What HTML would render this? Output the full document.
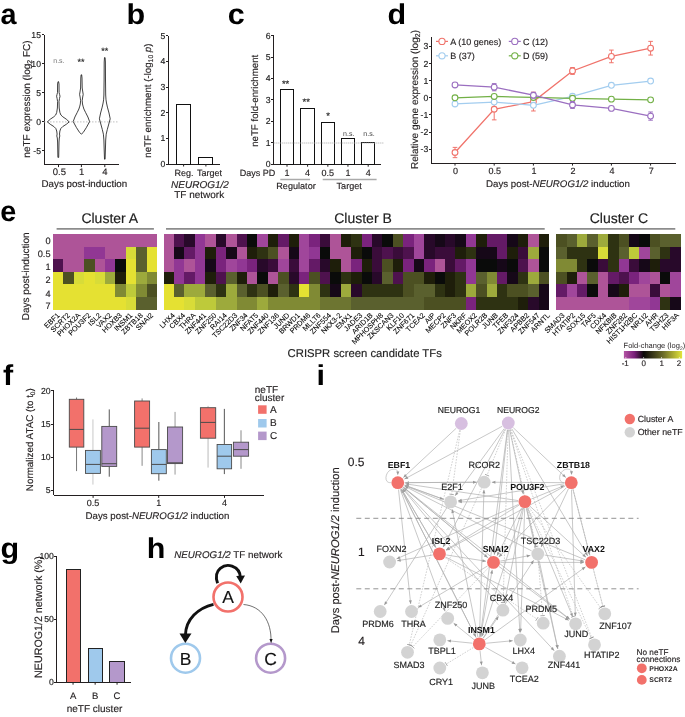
<!DOCTYPE html>
<html><head><meta charset="utf-8"><style>
html,body{margin:0;padding:0;background:#fff;width:685px;height:717px;overflow:hidden;}
svg{display:block;font-family:"Liberation Sans",sans-serif;text-rendering:geometricPrecision;will-change:transform;}
</style></head><body>
<svg width="685" height="717" viewBox="0 0 685 717">
<rect width="685" height="717" fill="#fff"/>
<text transform="translate(0.6,24.0) scale(1.0,1)" x="0" y="0" font-size="28.8" font-weight="bold" fill="#000">a</text>
<text transform="translate(126.6,24.0) scale(1.06,1)" x="0" y="0" font-size="28.8" font-weight="bold" fill="#000">b</text>
<text transform="translate(227.8,23.6) scale(1.06,1)" x="0" y="0" font-size="28.8" font-weight="bold" fill="#000">c</text>
<text transform="translate(387.6,24.0) scale(1.06,1)" x="0" y="0" font-size="28.8" font-weight="bold" fill="#000">d</text>
<text transform="translate(0.2,220.6) scale(1.0,1)" x="0" y="0" font-size="28.8" font-weight="bold" fill="#000">e</text>
<text transform="translate(3.0,384.7) scale(1.06,1)" x="0" y="0" font-size="28.8" font-weight="bold" fill="#000">f</text>
<text transform="translate(0.4,557.8) scale(1.06,1)" x="0" y="0" font-size="28.8" font-weight="bold" fill="#000">g</text>
<text transform="translate(146.8,557.8) scale(1.06,1)" x="0" y="0" font-size="28.8" font-weight="bold" fill="#000">h</text>
<text transform="translate(316.4,384.8) scale(1.06,1)" x="0" y="0" font-size="28.8" font-weight="bold" fill="#000">i</text>
<line x1="44.00" y1="34.80" x2="44.00" y2="164.60" stroke="#231f20" stroke-width="1" shape-rendering="crispEdges"/>
<line x1="44.00" y1="164.60" x2="118.50" y2="164.60" stroke="#231f20" stroke-width="1" shape-rendering="crispEdges"/>
<line x1="41.50" y1="34.80" x2="44.00" y2="34.80" stroke="#231f20" stroke-width="1" shape-rendering="crispEdges"/>
<text x="41.00" y="37.70" font-size="8.7" text-anchor="end" fill="#222" stroke="#222" stroke-width="0.15">15</text>
<line x1="41.50" y1="63.83" x2="44.00" y2="63.83" stroke="#231f20" stroke-width="1" shape-rendering="crispEdges"/>
<text x="41.00" y="66.73" font-size="8.7" text-anchor="end" fill="#222" stroke="#222" stroke-width="0.15">10</text>
<line x1="41.50" y1="92.87" x2="44.00" y2="92.87" stroke="#231f20" stroke-width="1" shape-rendering="crispEdges"/>
<text x="41.00" y="95.77" font-size="8.7" text-anchor="end" fill="#222" stroke="#222" stroke-width="0.15">5</text>
<line x1="41.50" y1="121.90" x2="44.00" y2="121.90" stroke="#231f20" stroke-width="1" shape-rendering="crispEdges"/>
<text x="41.00" y="124.80" font-size="8.7" text-anchor="end" fill="#222" stroke="#222" stroke-width="0.15">0</text>
<line x1="41.50" y1="150.93" x2="44.00" y2="150.93" stroke="#231f20" stroke-width="1" shape-rendering="crispEdges"/>
<text x="41.00" y="153.83" font-size="8.7" text-anchor="end" fill="#222" stroke="#222" stroke-width="0.15">-5</text>
<line x1="44.00" y1="121.90" x2="118.00" y2="121.90" stroke="#b0b0b0" stroke-width="0.8" stroke-dasharray="1.5,1.5"/>
<line x1="58.50" y1="164.60" x2="58.50" y2="167.10" stroke="#231f20" stroke-width="1"/>
<text x="59.40" y="174.60" font-size="9.5" text-anchor="middle" fill="#231f20" stroke="#231f20" stroke-width="0.15">0.5</text>
<line x1="81.40" y1="164.60" x2="81.40" y2="167.10" stroke="#231f20" stroke-width="1"/>
<text x="81.60" y="174.60" font-size="9.5" text-anchor="middle" fill="#231f20" stroke="#231f20" stroke-width="0.15">1</text>
<line x1="104.80" y1="164.60" x2="104.80" y2="167.10" stroke="#231f20" stroke-width="1"/>
<text x="104.90" y="174.60" font-size="9.5" text-anchor="middle" fill="#231f20" stroke="#231f20" stroke-width="0.15">4</text>
<text x="84.40" y="187.00" font-size="9.75" text-anchor="middle" fill="#231f20" stroke="#231f20" stroke-width="0.15">Days post-induction</text>
<text transform="translate(26.20,99.00) rotate(-90)" x="0" y="3.50" font-size="10" text-anchor="middle" fill="#231f20" stroke="#231f20" stroke-width="0.15">neTF expression (log<tspan font-size="7" dy="2">2</tspan><tspan dy="-2"> FC)</tspan></text>
<polygon points="58.60,81.70 59.00,84.00 59.10,92.50 59.60,94.50 60.00,96.20 59.50,98.50 59.00,101.60 59.20,108.00 59.90,112.50 60.90,115.00 62.80,116.80 66.30,119.20 69.20,121.90 66.30,124.30 62.80,126.50 60.80,128.50 59.90,131.00 59.50,134.00 59.80,136.00 59.30,138.00 59.00,142.00 58.70,157.40 57.90,157.40 57.60,142.00 57.30,138.00 56.80,136.00 57.10,134.00 56.70,131.00 55.80,128.50 53.80,126.50 50.30,124.30 47.40,121.90 50.30,119.20 53.80,116.80 55.70,115.00 56.70,112.50 57.40,108.00 57.60,101.60 57.10,98.50 56.60,96.20 57.00,94.50 57.50,92.50 57.60,84.00 58.00,81.70" fill="none" stroke="#111" stroke-width="0.8" stroke-linejoin="round"/>
<polygon points="81.70,74.80 82.00,78.00 82.20,88.00 82.80,92.00 83.20,94.40 82.70,97.00 82.20,100.70 82.50,104.00 83.00,106.10 83.90,109.00 85.60,112.50 87.90,117.00 89.60,121.60 86.40,127.50 83.20,132.50 81.70,133.90 81.10,133.90 79.60,132.50 76.40,127.50 73.20,121.60 74.90,117.00 77.20,112.50 78.90,109.00 79.80,106.10 80.30,104.00 80.60,100.70 80.10,97.00 79.60,94.40 80.00,92.00 80.60,88.00 80.80,78.00 81.10,74.80" fill="none" stroke="#111" stroke-width="0.8" stroke-linejoin="round"/>
<polygon points="105.10,57.60 105.40,62.00 105.50,80.00 105.70,95.00 106.00,99.80 106.50,103.00 107.40,107.10 109.00,113.00 110.20,118.80 108.80,124.00 107.30,129.50 106.20,134.20 105.70,140.00 105.40,150.00 105.10,159.20 104.50,159.20 104.20,150.00 103.90,140.00 103.40,134.20 102.30,129.50 100.80,124.00 99.40,118.80 100.60,113.00 102.20,107.10 103.10,103.00 103.60,99.80 103.90,95.00 104.10,80.00 104.20,62.00 104.50,57.60" fill="none" stroke="#111" stroke-width="0.8" stroke-linejoin="round"/>
<text x="58.90" y="62.50" font-size="7" text-anchor="middle" fill="#777">n.s.</text>
<text x="81.10" y="64.70" font-size="9" text-anchor="middle" fill="#222" stroke="#222" stroke-width="0.15">**</text>
<text x="104.70" y="54.20" font-size="9" text-anchor="middle" fill="#222" stroke="#222" stroke-width="0.15">**</text>
<line x1="168.30" y1="35.70" x2="168.30" y2="164.00" stroke="#231f20" stroke-width="1" shape-rendering="crispEdges"/>
<line x1="168.30" y1="164.00" x2="220.40" y2="164.00" stroke="#231f20" stroke-width="1" shape-rendering="crispEdges"/>
<line x1="165.80" y1="164.00" x2="168.30" y2="164.00" stroke="#231f20" stroke-width="1" shape-rendering="crispEdges"/>
<text x="165.30" y="166.90" font-size="8.7" text-anchor="end" fill="#222" stroke="#222" stroke-width="0.15">0</text>
<line x1="165.80" y1="138.34" x2="168.30" y2="138.34" stroke="#231f20" stroke-width="1" shape-rendering="crispEdges"/>
<text x="165.30" y="141.24" font-size="8.7" text-anchor="end" fill="#222" stroke="#222" stroke-width="0.15">1</text>
<line x1="165.80" y1="112.68" x2="168.30" y2="112.68" stroke="#231f20" stroke-width="1" shape-rendering="crispEdges"/>
<text x="165.30" y="115.58" font-size="8.7" text-anchor="end" fill="#222" stroke="#222" stroke-width="0.15">2</text>
<line x1="165.80" y1="87.02" x2="168.30" y2="87.02" stroke="#231f20" stroke-width="1" shape-rendering="crispEdges"/>
<text x="165.30" y="89.92" font-size="8.7" text-anchor="end" fill="#222" stroke="#222" stroke-width="0.15">3</text>
<line x1="165.80" y1="61.36" x2="168.30" y2="61.36" stroke="#231f20" stroke-width="1" shape-rendering="crispEdges"/>
<text x="165.30" y="64.26" font-size="8.7" text-anchor="end" fill="#222" stroke="#222" stroke-width="0.15">4</text>
<line x1="165.80" y1="35.70" x2="168.30" y2="35.70" stroke="#231f20" stroke-width="1" shape-rendering="crispEdges"/>
<text x="165.30" y="38.60" font-size="8.7" text-anchor="end" fill="#222" stroke="#222" stroke-width="0.15">5</text>
<rect x="176.30" y="104.21" width="14.60" height="59.79" fill="#fff" stroke="#111" stroke-width="1" shape-rendering="crispEdges"/>
<rect x="198.60" y="157.07" width="14.20" height="6.93" fill="#fff" stroke="#111" stroke-width="1" shape-rendering="crispEdges"/>
<line x1="183.60" y1="164.00" x2="183.60" y2="166.50" stroke="#231f20" stroke-width="1"/>
<line x1="205.90" y1="164.00" x2="205.90" y2="166.50" stroke="#231f20" stroke-width="1"/>
<text x="183.90" y="175.80" font-size="9" text-anchor="middle" fill="#231f20" stroke="#231f20" stroke-width="0.15">Reg.</text>
<text x="209.40" y="175.80" font-size="9" text-anchor="middle" fill="#231f20" stroke="#231f20" stroke-width="0.15">Target</text>
<text x="200.00" y="188.30" font-size="10" text-anchor="middle" fill="#231f20" stroke="#231f20" stroke-width="0.15" font-style="italic">NEUROG1/2</text>
<text x="199.20" y="198.00" font-size="10" text-anchor="middle" fill="#231f20" stroke="#231f20" stroke-width="0.15">TF network</text>
<text transform="translate(147.20,100.60) rotate(-90)" x="0" y="3.39" font-size="9.7" text-anchor="middle" fill="#231f20" stroke="#231f20" stroke-width="0.15">neTF enrichment (-log<tspan font-size="6.8" dy="2">10</tspan><tspan dy="-2"> </tspan><tspan font-style="italic">p</tspan>)</text>
<line x1="273.70" y1="35.70" x2="273.70" y2="164.20" stroke="#231f20" stroke-width="1" shape-rendering="crispEdges"/>
<line x1="273.70" y1="164.20" x2="381.30" y2="164.20" stroke="#231f20" stroke-width="1" shape-rendering="crispEdges"/>
<line x1="271.20" y1="164.20" x2="273.70" y2="164.20" stroke="#231f20" stroke-width="1" shape-rendering="crispEdges"/>
<text x="270.70" y="167.10" font-size="8.7" text-anchor="end" fill="#222" stroke="#222" stroke-width="0.15">0</text>
<line x1="271.20" y1="142.78" x2="273.70" y2="142.78" stroke="#231f20" stroke-width="1" shape-rendering="crispEdges"/>
<text x="270.70" y="145.68" font-size="8.7" text-anchor="end" fill="#222" stroke="#222" stroke-width="0.15">1</text>
<line x1="271.20" y1="121.37" x2="273.70" y2="121.37" stroke="#231f20" stroke-width="1" shape-rendering="crispEdges"/>
<text x="270.70" y="124.27" font-size="8.7" text-anchor="end" fill="#222" stroke="#222" stroke-width="0.15">2</text>
<line x1="271.20" y1="99.95" x2="273.70" y2="99.95" stroke="#231f20" stroke-width="1" shape-rendering="crispEdges"/>
<text x="270.70" y="102.85" font-size="8.7" text-anchor="end" fill="#222" stroke="#222" stroke-width="0.15">3</text>
<line x1="271.20" y1="78.53" x2="273.70" y2="78.53" stroke="#231f20" stroke-width="1" shape-rendering="crispEdges"/>
<text x="270.70" y="81.43" font-size="8.7" text-anchor="end" fill="#222" stroke="#222" stroke-width="0.15">4</text>
<line x1="271.20" y1="57.12" x2="273.70" y2="57.12" stroke="#231f20" stroke-width="1" shape-rendering="crispEdges"/>
<text x="270.70" y="60.02" font-size="8.7" text-anchor="end" fill="#222" stroke="#222" stroke-width="0.15">5</text>
<line x1="271.20" y1="35.70" x2="273.70" y2="35.70" stroke="#231f20" stroke-width="1" shape-rendering="crispEdges"/>
<text x="270.70" y="38.60" font-size="8.7" text-anchor="end" fill="#222" stroke="#222" stroke-width="0.15">6</text>
<rect x="280.30" y="89.24" width="13.40" height="74.96" fill="#fff" stroke="#111" stroke-width="1" shape-rendering="crispEdges"/>
<line x1="287.00" y1="164.20" x2="287.00" y2="166.70" stroke="#231f20" stroke-width="1"/>
<text x="285.60" y="86.64" font-size="9.5" text-anchor="middle" fill="#222" stroke="#222" stroke-width="0.15">**</text>
<rect x="300.90" y="108.09" width="13.40" height="56.11" fill="#fff" stroke="#111" stroke-width="1" shape-rendering="crispEdges"/>
<line x1="307.60" y1="164.20" x2="307.60" y2="166.70" stroke="#231f20" stroke-width="1"/>
<text x="306.20" y="105.49" font-size="9.5" text-anchor="middle" fill="#222" stroke="#222" stroke-width="0.15">**</text>
<rect x="321.30" y="122.01" width="13.10" height="42.19" fill="#fff" stroke="#111" stroke-width="1" shape-rendering="crispEdges"/>
<line x1="327.85" y1="164.20" x2="327.85" y2="166.70" stroke="#231f20" stroke-width="1"/>
<text x="328.05" y="119.41" font-size="9.5" text-anchor="middle" fill="#222" stroke="#222" stroke-width="0.15">*</text>
<rect x="341.40" y="138.07" width="13.10" height="26.13" fill="#fff" stroke="#111" stroke-width="1" shape-rendering="crispEdges"/>
<line x1="347.95" y1="164.20" x2="347.95" y2="166.70" stroke="#231f20" stroke-width="1"/>
<text x="348.75" y="135.90" font-size="7" text-anchor="middle" fill="#444">n.s.</text>
<rect x="361.80" y="142.35" width="12.80" height="21.85" fill="#fff" stroke="#111" stroke-width="1" shape-rendering="crispEdges"/>
<line x1="368.20" y1="164.20" x2="368.20" y2="166.70" stroke="#231f20" stroke-width="1"/>
<text x="369.00" y="135.90" font-size="7" text-anchor="middle" fill="#444">n.s.</text>
<line x1="273.70" y1="143.00" x2="384.00" y2="143.00" stroke="#a8a8a8" stroke-width="1" stroke-dasharray="1,1"/>
<text x="275.20" y="176.30" font-size="9" text-anchor="end" fill="#231f20" stroke="#231f20" stroke-width="0.15">Days PD</text>
<text x="287.00" y="176.30" font-size="9" text-anchor="middle" fill="#231f20" stroke="#231f20" stroke-width="0.15">1</text>
<text x="307.60" y="176.30" font-size="9" text-anchor="middle" fill="#231f20" stroke="#231f20" stroke-width="0.15">4</text>
<text x="327.85" y="176.30" font-size="9" text-anchor="middle" fill="#231f20" stroke="#231f20" stroke-width="0.15">0.5</text>
<text x="347.95" y="176.30" font-size="9" text-anchor="middle" fill="#231f20" stroke="#231f20" stroke-width="0.15">1</text>
<text x="368.20" y="176.30" font-size="9" text-anchor="middle" fill="#231f20" stroke="#231f20" stroke-width="0.15">4</text>
<line x1="280.30" y1="179.50" x2="310.10" y2="179.50" stroke="#aaa" stroke-width="1.5"/>
<line x1="322.70" y1="179.50" x2="376.60" y2="179.50" stroke="#aaa" stroke-width="1.5"/>
<text x="296.00" y="189.00" font-size="9.1" text-anchor="middle" fill="#231f20" stroke="#231f20" stroke-width="0.15">Regulator</text>
<text x="349.20" y="189.00" font-size="9.1" text-anchor="middle" fill="#231f20" stroke="#231f20" stroke-width="0.15">Target</text>
<text transform="translate(255.00,100.80) rotate(-90)" x="0" y="3.39" font-size="9.7" text-anchor="middle" fill="#231f20" stroke="#231f20" stroke-width="0.15">neTF fold-enrichment</text>
<line x1="431.30" y1="36.80" x2="431.30" y2="163.10" stroke="#231f20" stroke-width="1" shape-rendering="crispEdges"/>
<line x1="431.30" y1="163.10" x2="675.50" y2="163.10" stroke="#231f20" stroke-width="1" shape-rendering="crispEdges"/>
<line x1="428.80" y1="46.50" x2="431.30" y2="46.50" stroke="#231f20" stroke-width="1" shape-rendering="crispEdges"/>
<text x="428.30" y="49.40" font-size="8.7" text-anchor="end" fill="#222" stroke="#222" stroke-width="0.15">3</text>
<line x1="428.80" y1="63.60" x2="431.30" y2="63.60" stroke="#231f20" stroke-width="1" shape-rendering="crispEdges"/>
<text x="428.30" y="66.50" font-size="8.7" text-anchor="end" fill="#222" stroke="#222" stroke-width="0.15">2</text>
<line x1="428.80" y1="80.70" x2="431.30" y2="80.70" stroke="#231f20" stroke-width="1" shape-rendering="crispEdges"/>
<text x="428.30" y="83.60" font-size="8.7" text-anchor="end" fill="#222" stroke="#222" stroke-width="0.15">1</text>
<line x1="428.80" y1="97.80" x2="431.30" y2="97.80" stroke="#231f20" stroke-width="1" shape-rendering="crispEdges"/>
<text x="428.30" y="100.70" font-size="8.7" text-anchor="end" fill="#222" stroke="#222" stroke-width="0.15">0</text>
<line x1="428.80" y1="114.90" x2="431.30" y2="114.90" stroke="#231f20" stroke-width="1" shape-rendering="crispEdges"/>
<text x="428.30" y="117.80" font-size="8.7" text-anchor="end" fill="#222" stroke="#222" stroke-width="0.15">-1</text>
<line x1="428.80" y1="132.00" x2="431.30" y2="132.00" stroke="#231f20" stroke-width="1" shape-rendering="crispEdges"/>
<text x="428.30" y="134.90" font-size="8.7" text-anchor="end" fill="#222" stroke="#222" stroke-width="0.15">-2</text>
<line x1="428.80" y1="149.10" x2="431.30" y2="149.10" stroke="#231f20" stroke-width="1" shape-rendering="crispEdges"/>
<text x="428.30" y="152.00" font-size="8.7" text-anchor="end" fill="#222" stroke="#222" stroke-width="0.15">-3</text>
<line x1="455.00" y1="163.10" x2="455.00" y2="165.60" stroke="#231f20" stroke-width="1"/>
<text x="455.60" y="174.10" font-size="9" text-anchor="middle" fill="#231f20" stroke="#231f20" stroke-width="0.15">0</text>
<line x1="494.20" y1="163.10" x2="494.20" y2="165.60" stroke="#231f20" stroke-width="1"/>
<text x="494.80" y="174.10" font-size="9" text-anchor="middle" fill="#231f20" stroke="#231f20" stroke-width="0.15">0.5</text>
<line x1="533.40" y1="163.10" x2="533.40" y2="165.60" stroke="#231f20" stroke-width="1"/>
<text x="534.00" y="174.10" font-size="9" text-anchor="middle" fill="#231f20" stroke="#231f20" stroke-width="0.15">1</text>
<line x1="572.50" y1="163.10" x2="572.50" y2="165.60" stroke="#231f20" stroke-width="1"/>
<text x="573.10" y="174.10" font-size="9" text-anchor="middle" fill="#231f20" stroke="#231f20" stroke-width="0.15">2</text>
<line x1="611.40" y1="163.10" x2="611.40" y2="165.60" stroke="#231f20" stroke-width="1"/>
<text x="612.00" y="174.10" font-size="9" text-anchor="middle" fill="#231f20" stroke="#231f20" stroke-width="0.15">4</text>
<line x1="650.60" y1="163.10" x2="650.60" y2="165.60" stroke="#231f20" stroke-width="1"/>
<text x="651.20" y="174.10" font-size="9" text-anchor="middle" fill="#231f20" stroke="#231f20" stroke-width="0.15">7</text>
<text x="558.00" y="186.60" font-size="9.7" text-anchor="middle" fill="#231f20" stroke="#231f20" stroke-width="0.15">Days post-<tspan font-style="italic">NEUROG1/2</tspan> induction</text>
<text transform="translate(414.00,99.50) rotate(-90)" x="0" y="3.50" font-size="10" text-anchor="middle" fill="#231f20" stroke="#231f20" stroke-width="0.15">Relative gene expression (log<tspan font-size="7" dy="2">2</tspan><tspan dy="-2">)</tspan></text>
<polyline points="455.00,152.52 494.20,109.26 533.40,101.56 572.50,70.95 611.40,56.42 650.60,48.21" fill="none" stroke="#f0736b" stroke-width="1.3"/>
<line x1="455.00" y1="147.39" x2="455.00" y2="157.65" stroke="#f0736b" stroke-width="1"/>
<line x1="452.70" y1="147.39" x2="457.30" y2="147.39" stroke="#f0736b" stroke-width="1"/>
<line x1="452.70" y1="157.65" x2="457.30" y2="157.65" stroke="#f0736b" stroke-width="1"/>
<circle cx="455.00" cy="152.52" r="2.9" fill="#fff" stroke="#f0736b" stroke-width="1.1"/>
<line x1="494.20" y1="98.66" x2="494.20" y2="119.86" stroke="#f0736b" stroke-width="1"/>
<line x1="491.90" y1="98.66" x2="496.50" y2="98.66" stroke="#f0736b" stroke-width="1"/>
<line x1="491.90" y1="119.86" x2="496.50" y2="119.86" stroke="#f0736b" stroke-width="1"/>
<circle cx="494.20" cy="109.26" r="2.9" fill="#fff" stroke="#f0736b" stroke-width="1.1"/>
<line x1="533.40" y1="92.16" x2="533.40" y2="110.97" stroke="#f0736b" stroke-width="1"/>
<line x1="531.10" y1="92.16" x2="535.70" y2="92.16" stroke="#f0736b" stroke-width="1"/>
<line x1="531.10" y1="110.97" x2="535.70" y2="110.97" stroke="#f0736b" stroke-width="1"/>
<circle cx="533.40" cy="101.56" r="2.9" fill="#fff" stroke="#f0736b" stroke-width="1.1"/>
<line x1="572.50" y1="67.53" x2="572.50" y2="74.37" stroke="#f0736b" stroke-width="1"/>
<line x1="570.20" y1="67.53" x2="574.80" y2="67.53" stroke="#f0736b" stroke-width="1"/>
<line x1="570.20" y1="74.37" x2="574.80" y2="74.37" stroke="#f0736b" stroke-width="1"/>
<circle cx="572.50" cy="70.95" r="2.9" fill="#fff" stroke="#f0736b" stroke-width="1.1"/>
<line x1="611.40" y1="50.09" x2="611.40" y2="62.74" stroke="#f0736b" stroke-width="1"/>
<line x1="609.10" y1="50.09" x2="613.70" y2="50.09" stroke="#f0736b" stroke-width="1"/>
<line x1="609.10" y1="62.74" x2="613.70" y2="62.74" stroke="#f0736b" stroke-width="1"/>
<circle cx="611.40" cy="56.42" r="2.9" fill="#fff" stroke="#f0736b" stroke-width="1.1"/>
<line x1="650.60" y1="41.37" x2="650.60" y2="55.05" stroke="#f0736b" stroke-width="1"/>
<line x1="648.30" y1="41.37" x2="652.90" y2="41.37" stroke="#f0736b" stroke-width="1"/>
<line x1="648.30" y1="55.05" x2="652.90" y2="55.05" stroke="#f0736b" stroke-width="1"/>
<circle cx="650.60" cy="48.21" r="2.9" fill="#fff" stroke="#f0736b" stroke-width="1.1"/>
<polyline points="455.00,103.96 494.20,102.08 533.40,105.32 572.50,96.26 611.40,85.32 650.60,81.04" fill="none" stroke="#a3cdef" stroke-width="1.3"/>
<circle cx="455.00" cy="103.96" r="2.9" fill="#fff" stroke="#a3cdef" stroke-width="1.1"/>
<circle cx="494.20" cy="102.08" r="2.9" fill="#fff" stroke="#a3cdef" stroke-width="1.1"/>
<circle cx="533.40" cy="105.32" r="2.9" fill="#fff" stroke="#a3cdef" stroke-width="1.1"/>
<circle cx="572.50" cy="96.26" r="2.9" fill="#fff" stroke="#a3cdef" stroke-width="1.1"/>
<circle cx="611.40" cy="85.32" r="2.9" fill="#fff" stroke="#a3cdef" stroke-width="1.1"/>
<circle cx="650.60" cy="81.04" r="2.9" fill="#fff" stroke="#a3cdef" stroke-width="1.1"/>
<polyline points="455.00,97.80 494.20,96.43 533.40,97.46 572.50,98.31 611.40,99.17 650.60,99.85" fill="none" stroke="#72b046" stroke-width="1.3"/>
<circle cx="455.00" cy="97.80" r="2.9" fill="#fff" stroke="#72b046" stroke-width="1.1"/>
<circle cx="494.20" cy="96.43" r="2.9" fill="#fff" stroke="#72b046" stroke-width="1.1"/>
<circle cx="533.40" cy="97.46" r="2.9" fill="#fff" stroke="#72b046" stroke-width="1.1"/>
<circle cx="572.50" cy="98.31" r="2.9" fill="#fff" stroke="#72b046" stroke-width="1.1"/>
<circle cx="611.40" cy="99.17" r="2.9" fill="#fff" stroke="#72b046" stroke-width="1.1"/>
<circle cx="650.60" cy="99.85" r="2.9" fill="#fff" stroke="#72b046" stroke-width="1.1"/>
<polyline points="455.00,84.97 494.20,87.20 533.40,95.23 572.50,104.98 611.40,108.40 650.60,116.10" fill="none" stroke="#9b6fc0" stroke-width="1.3"/>
<circle cx="455.00" cy="84.97" r="2.9" fill="#fff" stroke="#9b6fc0" stroke-width="1.1"/>
<line x1="494.20" y1="83.61" x2="494.20" y2="90.79" stroke="#9b6fc0" stroke-width="1"/>
<line x1="491.90" y1="83.61" x2="496.50" y2="83.61" stroke="#9b6fc0" stroke-width="1"/>
<line x1="491.90" y1="90.79" x2="496.50" y2="90.79" stroke="#9b6fc0" stroke-width="1"/>
<circle cx="494.20" cy="87.20" r="2.9" fill="#fff" stroke="#9b6fc0" stroke-width="1.1"/>
<line x1="533.40" y1="92.33" x2="533.40" y2="98.14" stroke="#9b6fc0" stroke-width="1"/>
<line x1="531.10" y1="92.33" x2="535.70" y2="92.33" stroke="#9b6fc0" stroke-width="1"/>
<line x1="531.10" y1="98.14" x2="535.70" y2="98.14" stroke="#9b6fc0" stroke-width="1"/>
<circle cx="533.40" cy="95.23" r="2.9" fill="#fff" stroke="#9b6fc0" stroke-width="1.1"/>
<line x1="572.50" y1="101.56" x2="572.50" y2="108.40" stroke="#9b6fc0" stroke-width="1"/>
<line x1="570.20" y1="101.56" x2="574.80" y2="101.56" stroke="#9b6fc0" stroke-width="1"/>
<line x1="570.20" y1="108.40" x2="574.80" y2="108.40" stroke="#9b6fc0" stroke-width="1"/>
<circle cx="572.50" cy="104.98" r="2.9" fill="#fff" stroke="#9b6fc0" stroke-width="1.1"/>
<line x1="611.40" y1="107.03" x2="611.40" y2="109.77" stroke="#9b6fc0" stroke-width="1"/>
<line x1="609.10" y1="107.03" x2="613.70" y2="107.03" stroke="#9b6fc0" stroke-width="1"/>
<line x1="609.10" y1="109.77" x2="613.70" y2="109.77" stroke="#9b6fc0" stroke-width="1"/>
<circle cx="611.40" cy="108.40" r="2.9" fill="#fff" stroke="#9b6fc0" stroke-width="1.1"/>
<line x1="650.60" y1="111.99" x2="650.60" y2="120.20" stroke="#9b6fc0" stroke-width="1"/>
<line x1="648.30" y1="111.99" x2="652.90" y2="111.99" stroke="#9b6fc0" stroke-width="1"/>
<line x1="648.30" y1="120.20" x2="652.90" y2="120.20" stroke="#9b6fc0" stroke-width="1"/>
<circle cx="650.60" cy="116.10" r="2.9" fill="#fff" stroke="#9b6fc0" stroke-width="1.1"/>
<line x1="436.00" y1="41.40" x2="448.00" y2="41.40" stroke="#f0736b" stroke-width="1.2"/>
<circle cx="442.00" cy="41.40" r="3.1" fill="#fff" stroke="#f0736b" stroke-width="1.1"/>
<text x="450.20" y="44.60" font-size="9" text-anchor="start" fill="#231f20" stroke="#231f20" stroke-width="0.15">A (10 genes)</text>
<line x1="508.80" y1="41.40" x2="520.80" y2="41.40" stroke="#9b6fc0" stroke-width="1.2"/>
<circle cx="514.80" cy="41.40" r="3.1" fill="#fff" stroke="#9b6fc0" stroke-width="1.1"/>
<text x="523.00" y="44.60" font-size="9" text-anchor="start" fill="#231f20" stroke="#231f20" stroke-width="0.15">C (12)</text>
<line x1="436.00" y1="55.80" x2="448.00" y2="55.80" stroke="#a3cdef" stroke-width="1.2"/>
<circle cx="442.00" cy="55.80" r="3.1" fill="#fff" stroke="#a3cdef" stroke-width="1.1"/>
<text x="450.20" y="59.00" font-size="9" text-anchor="start" fill="#231f20" stroke="#231f20" stroke-width="0.15">B (37)</text>
<line x1="508.80" y1="55.80" x2="520.80" y2="55.80" stroke="#72b046" stroke-width="1.2"/>
<circle cx="514.80" cy="55.80" r="3.1" fill="#fff" stroke="#72b046" stroke-width="1.1"/>
<text x="523.00" y="59.00" font-size="9" text-anchor="start" fill="#231f20" stroke="#231f20" stroke-width="0.15">D (59)</text>
<g shape-rendering="crispEdges">
<rect x="53.00" y="234.00" width="10.71" height="12.90" fill="#ae5498"/>
<rect x="53.00" y="246.60" width="10.71" height="12.90" fill="#ae5498"/>
<rect x="53.00" y="259.20" width="10.71" height="12.90" fill="#4e124e"/>
<rect x="53.00" y="271.80" width="10.71" height="12.90" fill="#e5e132"/>
<rect x="53.00" y="284.40" width="10.71" height="12.90" fill="#e5e132"/>
<rect x="53.00" y="297.00" width="10.71" height="12.90" fill="#e5e132"/>
<rect x="63.41" y="234.00" width="10.71" height="12.90" fill="#ae5498"/>
<rect x="63.41" y="246.60" width="10.71" height="12.90" fill="#ae5498"/>
<rect x="63.41" y="259.20" width="10.71" height="12.90" fill="#ae5498"/>
<rect x="63.41" y="271.80" width="10.71" height="12.90" fill="#4c5022"/>
<rect x="63.41" y="284.40" width="10.71" height="12.90" fill="#e5e132"/>
<rect x="63.41" y="297.00" width="10.71" height="12.90" fill="#e5e132"/>
<rect x="73.82" y="234.00" width="10.71" height="12.90" fill="#ae5498"/>
<rect x="73.82" y="246.60" width="10.71" height="12.90" fill="#ae5498"/>
<rect x="73.82" y="259.20" width="10.71" height="12.90" fill="#ae5498"/>
<rect x="73.82" y="271.80" width="10.71" height="12.90" fill="#d8dc38"/>
<rect x="73.82" y="284.40" width="10.71" height="12.90" fill="#e5e132"/>
<rect x="73.82" y="297.00" width="10.71" height="12.90" fill="#e5e132"/>
<rect x="84.23" y="234.00" width="10.71" height="12.90" fill="#ae5498"/>
<rect x="84.23" y="246.60" width="10.71" height="12.90" fill="#913794"/>
<rect x="84.23" y="259.20" width="10.71" height="12.90" fill="#4c5022"/>
<rect x="84.23" y="271.80" width="10.71" height="12.90" fill="#e5e132"/>
<rect x="84.23" y="284.40" width="10.71" height="12.90" fill="#e5e132"/>
<rect x="84.23" y="297.00" width="10.71" height="12.90" fill="#e5e132"/>
<rect x="94.64" y="234.00" width="10.71" height="12.90" fill="#ae5498"/>
<rect x="94.64" y="246.60" width="10.71" height="12.90" fill="#913794"/>
<rect x="94.64" y="259.20" width="10.71" height="12.90" fill="#ae5498"/>
<rect x="94.64" y="271.80" width="10.71" height="12.90" fill="#d8dc38"/>
<rect x="94.64" y="284.40" width="10.71" height="12.90" fill="#e5e132"/>
<rect x="94.64" y="297.00" width="10.71" height="12.90" fill="#e5e132"/>
<rect x="105.05" y="234.00" width="10.71" height="12.90" fill="#ae5498"/>
<rect x="105.05" y="246.60" width="10.71" height="12.90" fill="#ae5498"/>
<rect x="105.05" y="259.20" width="10.71" height="12.90" fill="#913794"/>
<rect x="105.05" y="271.80" width="10.71" height="12.90" fill="#9daa3c"/>
<rect x="105.05" y="284.40" width="10.71" height="12.90" fill="#e5e132"/>
<rect x="105.05" y="297.00" width="10.71" height="12.90" fill="#e5e132"/>
<rect x="115.46" y="234.00" width="10.71" height="12.90" fill="#ae5498"/>
<rect x="115.46" y="246.60" width="10.71" height="12.90" fill="#ae5498"/>
<rect x="115.46" y="259.20" width="10.71" height="12.90" fill="#0a0b0a"/>
<rect x="115.46" y="271.80" width="10.71" height="12.90" fill="#1e1e0a"/>
<rect x="115.46" y="284.40" width="10.71" height="12.90" fill="#808a34"/>
<rect x="115.46" y="297.00" width="10.71" height="12.90" fill="#e5e132"/>
<rect x="125.87" y="234.00" width="10.71" height="12.90" fill="#ae5498"/>
<rect x="125.87" y="246.60" width="10.71" height="12.90" fill="#d8dc38"/>
<rect x="125.87" y="259.20" width="10.71" height="12.90" fill="#e5e132"/>
<rect x="125.87" y="271.80" width="10.71" height="12.90" fill="#e5e132"/>
<rect x="125.87" y="284.40" width="10.71" height="12.90" fill="#beca3a"/>
<rect x="125.87" y="297.00" width="10.71" height="12.90" fill="#d8dc38"/>
<rect x="136.28" y="234.00" width="10.71" height="12.90" fill="#ae5498"/>
<rect x="136.28" y="246.60" width="10.71" height="12.90" fill="#5a602e"/>
<rect x="136.28" y="259.20" width="10.71" height="12.90" fill="#5a602e"/>
<rect x="136.28" y="271.80" width="10.71" height="12.90" fill="#9daa3c"/>
<rect x="136.28" y="284.40" width="10.71" height="12.90" fill="#808a34"/>
<rect x="136.28" y="297.00" width="10.71" height="12.90" fill="#5a602e"/>
<rect x="146.69" y="234.00" width="10.71" height="12.90" fill="#ae5498"/>
<rect x="146.69" y="246.60" width="10.71" height="12.90" fill="#e5e132"/>
<rect x="146.69" y="259.20" width="10.71" height="12.90" fill="#e5e132"/>
<rect x="146.69" y="271.80" width="10.71" height="12.90" fill="#808a34"/>
<rect x="146.69" y="284.40" width="10.71" height="12.90" fill="#4c5022"/>
<rect x="146.69" y="297.00" width="10.71" height="12.90" fill="#5a602e"/>
</g>
<text transform="translate(60.00,315.8) rotate(-45)" x="0" y="0" font-size="7.3" text-anchor="end" fill="#000" stroke="#000" stroke-width="0.08">EBF1</text>
<text transform="translate(70.41,315.8) rotate(-45)" x="0" y="0" font-size="7.3" text-anchor="end" fill="#000" stroke="#000" stroke-width="0.08">SCRT2</text>
<text transform="translate(80.83,315.8) rotate(-45)" x="0" y="0" font-size="7.3" text-anchor="end" fill="#000" stroke="#000" stroke-width="0.08">PHOX2A</text>
<text transform="translate(91.23,315.8) rotate(-45)" x="0" y="0" font-size="7.3" text-anchor="end" fill="#000" stroke="#000" stroke-width="0.08">POU3F2</text>
<text transform="translate(101.64,315.8) rotate(-45)" x="0" y="0" font-size="7.3" text-anchor="end" fill="#000" stroke="#000" stroke-width="0.08">ISL2</text>
<text transform="translate(112.05,315.8) rotate(-45)" x="0" y="0" font-size="7.3" text-anchor="end" fill="#000" stroke="#000" stroke-width="0.08">VAX2</text>
<text transform="translate(122.47,315.8) rotate(-45)" x="0" y="0" font-size="7.3" text-anchor="end" fill="#000" stroke="#000" stroke-width="0.08">HOXB3</text>
<text transform="translate(132.88,315.8) rotate(-45)" x="0" y="0" font-size="7.3" text-anchor="end" fill="#000" stroke="#000" stroke-width="0.08">INSM1</text>
<text transform="translate(143.29,315.8) rotate(-45)" x="0" y="0" font-size="7.3" text-anchor="end" fill="#000" stroke="#000" stroke-width="0.08">ZBTB18</text>
<text transform="translate(153.69,315.8) rotate(-45)" x="0" y="0" font-size="7.3" text-anchor="end" fill="#000" stroke="#000" stroke-width="0.08">SNAI2</text>
<g shape-rendering="crispEdges">
<rect x="163.60" y="234.00" width="10.72" height="12.90" fill="#ae5498"/>
<rect x="163.60" y="246.60" width="10.72" height="12.90" fill="#ae5498"/>
<rect x="163.60" y="259.20" width="10.72" height="12.90" fill="#ae5498"/>
<rect x="163.60" y="271.80" width="10.72" height="12.90" fill="#1e1e0a"/>
<rect x="163.60" y="284.40" width="10.72" height="12.90" fill="#e5e132"/>
<rect x="163.60" y="297.00" width="10.72" height="12.90" fill="#e5e132"/>
<rect x="174.02" y="234.00" width="10.72" height="12.90" fill="#4e124e"/>
<rect x="174.02" y="246.60" width="10.72" height="12.90" fill="#160818"/>
<rect x="174.02" y="259.20" width="10.72" height="12.90" fill="#913794"/>
<rect x="174.02" y="271.80" width="10.72" height="12.90" fill="#913794"/>
<rect x="174.02" y="284.40" width="10.72" height="12.90" fill="#5a602e"/>
<rect x="174.02" y="297.00" width="10.72" height="12.90" fill="#e5e132"/>
<rect x="184.44" y="234.00" width="10.72" height="12.90" fill="#28092a"/>
<rect x="184.44" y="246.60" width="10.72" height="12.90" fill="#641a66"/>
<rect x="184.44" y="259.20" width="10.72" height="12.90" fill="#ae5498"/>
<rect x="184.44" y="271.80" width="10.72" height="12.90" fill="#641a66"/>
<rect x="184.44" y="284.40" width="10.72" height="12.90" fill="#9daa3c"/>
<rect x="184.44" y="297.00" width="10.72" height="12.90" fill="#d8dc38"/>
<rect x="194.86" y="234.00" width="10.72" height="12.90" fill="#913794"/>
<rect x="194.86" y="246.60" width="10.72" height="12.90" fill="#913794"/>
<rect x="194.86" y="259.20" width="10.72" height="12.90" fill="#913794"/>
<rect x="194.86" y="271.80" width="10.72" height="12.90" fill="#913794"/>
<rect x="194.86" y="284.40" width="10.72" height="12.90" fill="#9daa3c"/>
<rect x="194.86" y="297.00" width="10.72" height="12.90" fill="#beca3a"/>
<rect x="205.28" y="234.00" width="10.72" height="12.90" fill="#ae5498"/>
<rect x="205.28" y="246.60" width="10.72" height="12.90" fill="#1e1e0a"/>
<rect x="205.28" y="259.20" width="10.72" height="12.90" fill="#160818"/>
<rect x="205.28" y="271.80" width="10.72" height="12.90" fill="#1e1e0a"/>
<rect x="205.28" y="284.40" width="10.72" height="12.90" fill="#5a602e"/>
<rect x="205.28" y="297.00" width="10.72" height="12.90" fill="#beca3a"/>
<rect x="215.70" y="234.00" width="10.72" height="12.90" fill="#28092a"/>
<rect x="215.70" y="246.60" width="10.72" height="12.90" fill="#7a237d"/>
<rect x="215.70" y="259.20" width="10.72" height="12.90" fill="#7a237d"/>
<rect x="215.70" y="271.80" width="10.72" height="12.90" fill="#4e124e"/>
<rect x="215.70" y="284.40" width="10.72" height="12.90" fill="#2e3212"/>
<rect x="215.70" y="297.00" width="10.72" height="12.90" fill="#9daa3c"/>
<rect x="226.12" y="234.00" width="10.72" height="12.90" fill="#ae5498"/>
<rect x="226.12" y="246.60" width="10.72" height="12.90" fill="#160818"/>
<rect x="226.12" y="259.20" width="10.72" height="12.90" fill="#a0469b"/>
<rect x="226.12" y="271.80" width="10.72" height="12.90" fill="#5a602e"/>
<rect x="226.12" y="284.40" width="10.72" height="12.90" fill="#9daa3c"/>
<rect x="226.12" y="297.00" width="10.72" height="12.90" fill="#9daa3c"/>
<rect x="236.54" y="234.00" width="10.72" height="12.90" fill="#4e124e"/>
<rect x="236.54" y="246.60" width="10.72" height="12.90" fill="#ae5498"/>
<rect x="236.54" y="259.20" width="10.72" height="12.90" fill="#913794"/>
<rect x="236.54" y="271.80" width="10.72" height="12.90" fill="#1e1e0a"/>
<rect x="236.54" y="284.40" width="10.72" height="12.90" fill="#5a602e"/>
<rect x="236.54" y="297.00" width="10.72" height="12.90" fill="#808a34"/>
<rect x="246.96" y="234.00" width="10.72" height="12.90" fill="#0a0b0a"/>
<rect x="246.96" y="246.60" width="10.72" height="12.90" fill="#1e1e0a"/>
<rect x="246.96" y="259.20" width="10.72" height="12.90" fill="#7a237d"/>
<rect x="246.96" y="271.80" width="10.72" height="12.90" fill="#ae5498"/>
<rect x="246.96" y="284.40" width="10.72" height="12.90" fill="#2e3212"/>
<rect x="246.96" y="297.00" width="10.72" height="12.90" fill="#808a34"/>
<rect x="257.38" y="234.00" width="10.72" height="12.90" fill="#a0469b"/>
<rect x="257.38" y="246.60" width="10.72" height="12.90" fill="#2e3212"/>
<rect x="257.38" y="259.20" width="10.72" height="12.90" fill="#28092a"/>
<rect x="257.38" y="271.80" width="10.72" height="12.90" fill="#0a0b0a"/>
<rect x="257.38" y="284.40" width="10.72" height="12.90" fill="#4c5022"/>
<rect x="257.38" y="297.00" width="10.72" height="12.90" fill="#9daa3c"/>
<rect x="267.80" y="234.00" width="10.72" height="12.90" fill="#1e1e0a"/>
<rect x="267.80" y="246.60" width="10.72" height="12.90" fill="#4c5022"/>
<rect x="267.80" y="259.20" width="10.72" height="12.90" fill="#3a0c3a"/>
<rect x="267.80" y="271.80" width="10.72" height="12.90" fill="#ae5498"/>
<rect x="267.80" y="284.40" width="10.72" height="12.90" fill="#1e1e0a"/>
<rect x="267.80" y="297.00" width="10.72" height="12.90" fill="#808a34"/>
<rect x="278.22" y="234.00" width="10.72" height="12.90" fill="#641a66"/>
<rect x="278.22" y="246.60" width="10.72" height="12.90" fill="#ae5498"/>
<rect x="278.22" y="259.20" width="10.72" height="12.90" fill="#a0469b"/>
<rect x="278.22" y="271.80" width="10.72" height="12.90" fill="#4c5022"/>
<rect x="278.22" y="284.40" width="10.72" height="12.90" fill="#5a602e"/>
<rect x="278.22" y="297.00" width="10.72" height="12.90" fill="#808a34"/>
<rect x="288.64" y="234.00" width="10.72" height="12.90" fill="#1e1e0a"/>
<rect x="288.64" y="246.60" width="10.72" height="12.90" fill="#160818"/>
<rect x="288.64" y="259.20" width="10.72" height="12.90" fill="#3a0c3a"/>
<rect x="288.64" y="271.80" width="10.72" height="12.90" fill="#28092a"/>
<rect x="288.64" y="284.40" width="10.72" height="12.90" fill="#2e3212"/>
<rect x="288.64" y="297.00" width="10.72" height="12.90" fill="#808a34"/>
<rect x="299.06" y="234.00" width="10.72" height="12.90" fill="#a0469b"/>
<rect x="299.06" y="246.60" width="10.72" height="12.90" fill="#a0469b"/>
<rect x="299.06" y="259.20" width="10.72" height="12.90" fill="#a0469b"/>
<rect x="299.06" y="271.80" width="10.72" height="12.90" fill="#7a237d"/>
<rect x="299.06" y="284.40" width="10.72" height="12.90" fill="#e5e132"/>
<rect x="299.06" y="297.00" width="10.72" height="12.90" fill="#808a34"/>
<rect x="309.48" y="234.00" width="10.72" height="12.90" fill="#7a237d"/>
<rect x="309.48" y="246.60" width="10.72" height="12.90" fill="#913794"/>
<rect x="309.48" y="259.20" width="10.72" height="12.90" fill="#641a66"/>
<rect x="309.48" y="271.80" width="10.72" height="12.90" fill="#4c5022"/>
<rect x="309.48" y="284.40" width="10.72" height="12.90" fill="#808a34"/>
<rect x="309.48" y="297.00" width="10.72" height="12.90" fill="#808a34"/>
<rect x="319.90" y="234.00" width="10.72" height="12.90" fill="#3a0c3a"/>
<rect x="319.90" y="246.60" width="10.72" height="12.90" fill="#0a0b0a"/>
<rect x="319.90" y="259.20" width="10.72" height="12.90" fill="#28092a"/>
<rect x="319.90" y="271.80" width="10.72" height="12.90" fill="#4e124e"/>
<rect x="319.90" y="284.40" width="10.72" height="12.90" fill="#2e3212"/>
<rect x="319.90" y="297.00" width="10.72" height="12.90" fill="#6d7531"/>
<rect x="330.32" y="234.00" width="10.72" height="12.90" fill="#ae5498"/>
<rect x="330.32" y="246.60" width="10.72" height="12.90" fill="#ae5498"/>
<rect x="330.32" y="259.20" width="10.72" height="12.90" fill="#1e1e0a"/>
<rect x="330.32" y="271.80" width="10.72" height="12.90" fill="#0a0b0a"/>
<rect x="330.32" y="284.40" width="10.72" height="12.90" fill="#160818"/>
<rect x="330.32" y="297.00" width="10.72" height="12.90" fill="#6d7531"/>
<rect x="340.74" y="234.00" width="10.72" height="12.90" fill="#1e1e0a"/>
<rect x="340.74" y="246.60" width="10.72" height="12.90" fill="#ae5498"/>
<rect x="340.74" y="259.20" width="10.72" height="12.90" fill="#ae5498"/>
<rect x="340.74" y="271.80" width="10.72" height="12.90" fill="#2e3212"/>
<rect x="340.74" y="284.40" width="10.72" height="12.90" fill="#9daa3c"/>
<rect x="340.74" y="297.00" width="10.72" height="12.90" fill="#6d7531"/>
<rect x="351.16" y="234.00" width="10.72" height="12.90" fill="#2e3212"/>
<rect x="351.16" y="246.60" width="10.72" height="12.90" fill="#1e1e0a"/>
<rect x="351.16" y="259.20" width="10.72" height="12.90" fill="#7a237d"/>
<rect x="351.16" y="271.80" width="10.72" height="12.90" fill="#1e1e0a"/>
<rect x="351.16" y="284.40" width="10.72" height="12.90" fill="#28092a"/>
<rect x="351.16" y="297.00" width="10.72" height="12.90" fill="#5a602e"/>
<rect x="361.58" y="234.00" width="10.72" height="12.90" fill="#7a237d"/>
<rect x="361.58" y="246.60" width="10.72" height="12.90" fill="#0a0b0a"/>
<rect x="361.58" y="259.20" width="10.72" height="12.90" fill="#1e1e0a"/>
<rect x="361.58" y="271.80" width="10.72" height="12.90" fill="#0a0b0a"/>
<rect x="361.58" y="284.40" width="10.72" height="12.90" fill="#2e3212"/>
<rect x="361.58" y="297.00" width="10.72" height="12.90" fill="#5a602e"/>
<rect x="372.00" y="234.00" width="10.72" height="12.90" fill="#28092a"/>
<rect x="372.00" y="246.60" width="10.72" height="12.90" fill="#3a0c3a"/>
<rect x="372.00" y="259.20" width="10.72" height="12.90" fill="#3a0c3a"/>
<rect x="372.00" y="271.80" width="10.72" height="12.90" fill="#28092a"/>
<rect x="372.00" y="284.40" width="10.72" height="12.90" fill="#2e3212"/>
<rect x="372.00" y="297.00" width="10.72" height="12.90" fill="#5a602e"/>
<rect x="382.42" y="234.00" width="10.72" height="12.90" fill="#0a0b0a"/>
<rect x="382.42" y="246.60" width="10.72" height="12.90" fill="#4e124e"/>
<rect x="382.42" y="259.20" width="10.72" height="12.90" fill="#4c5022"/>
<rect x="382.42" y="271.80" width="10.72" height="12.90" fill="#5a602e"/>
<rect x="382.42" y="284.40" width="10.72" height="12.90" fill="#2e3212"/>
<rect x="382.42" y="297.00" width="10.72" height="12.90" fill="#5a602e"/>
<rect x="392.84" y="234.00" width="10.72" height="12.90" fill="#4c5022"/>
<rect x="392.84" y="246.60" width="10.72" height="12.90" fill="#3a0c3a"/>
<rect x="392.84" y="259.20" width="10.72" height="12.90" fill="#1e1e0a"/>
<rect x="392.84" y="271.80" width="10.72" height="12.90" fill="#4e124e"/>
<rect x="392.84" y="284.40" width="10.72" height="12.90" fill="#2e3212"/>
<rect x="392.84" y="297.00" width="10.72" height="12.90" fill="#5a602e"/>
<rect x="403.26" y="234.00" width="10.72" height="12.90" fill="#7a237d"/>
<rect x="403.26" y="246.60" width="10.72" height="12.90" fill="#4e124e"/>
<rect x="403.26" y="259.20" width="10.72" height="12.90" fill="#7a237d"/>
<rect x="403.26" y="271.80" width="10.72" height="12.90" fill="#4c5022"/>
<rect x="403.26" y="284.40" width="10.72" height="12.90" fill="#4c5022"/>
<rect x="403.26" y="297.00" width="10.72" height="12.90" fill="#5a602e"/>
<rect x="413.68" y="234.00" width="10.72" height="12.90" fill="#a0469b"/>
<rect x="413.68" y="246.60" width="10.72" height="12.90" fill="#a0469b"/>
<rect x="413.68" y="259.20" width="10.72" height="12.90" fill="#160818"/>
<rect x="413.68" y="271.80" width="10.72" height="12.90" fill="#4c5022"/>
<rect x="413.68" y="284.40" width="10.72" height="12.90" fill="#5a602e"/>
<rect x="413.68" y="297.00" width="10.72" height="12.90" fill="#5a602e"/>
<rect x="424.10" y="234.00" width="10.72" height="12.90" fill="#28092a"/>
<rect x="424.10" y="246.60" width="10.72" height="12.90" fill="#28092a"/>
<rect x="424.10" y="259.20" width="10.72" height="12.90" fill="#7a237d"/>
<rect x="424.10" y="271.80" width="10.72" height="12.90" fill="#1e1e0a"/>
<rect x="424.10" y="284.40" width="10.72" height="12.90" fill="#5a602e"/>
<rect x="424.10" y="297.00" width="10.72" height="12.90" fill="#4c5022"/>
<rect x="434.52" y="234.00" width="10.72" height="12.90" fill="#160818"/>
<rect x="434.52" y="246.60" width="10.72" height="12.90" fill="#3a0c3a"/>
<rect x="434.52" y="259.20" width="10.72" height="12.90" fill="#ae5498"/>
<rect x="434.52" y="271.80" width="10.72" height="12.90" fill="#0a0b0a"/>
<rect x="434.52" y="284.40" width="10.72" height="12.90" fill="#2e3212"/>
<rect x="434.52" y="297.00" width="10.72" height="12.90" fill="#4c5022"/>
<rect x="444.94" y="234.00" width="10.72" height="12.90" fill="#28092a"/>
<rect x="444.94" y="246.60" width="10.72" height="12.90" fill="#3a0c3a"/>
<rect x="444.94" y="259.20" width="10.72" height="12.90" fill="#3a0c3a"/>
<rect x="444.94" y="271.80" width="10.72" height="12.90" fill="#1e1e0a"/>
<rect x="444.94" y="284.40" width="10.72" height="12.90" fill="#1e1e0a"/>
<rect x="444.94" y="297.00" width="10.72" height="12.90" fill="#4c5022"/>
<rect x="455.36" y="234.00" width="10.72" height="12.90" fill="#160818"/>
<rect x="455.36" y="246.60" width="10.72" height="12.90" fill="#1e1e0a"/>
<rect x="455.36" y="259.20" width="10.72" height="12.90" fill="#641a66"/>
<rect x="455.36" y="271.80" width="10.72" height="12.90" fill="#2e3212"/>
<rect x="455.36" y="284.40" width="10.72" height="12.90" fill="#2e3212"/>
<rect x="455.36" y="297.00" width="10.72" height="12.90" fill="#4c5022"/>
<rect x="465.78" y="234.00" width="10.72" height="12.90" fill="#913794"/>
<rect x="465.78" y="246.60" width="10.72" height="12.90" fill="#2e3212"/>
<rect x="465.78" y="259.20" width="10.72" height="12.90" fill="#913794"/>
<rect x="465.78" y="271.80" width="10.72" height="12.90" fill="#913794"/>
<rect x="465.78" y="284.40" width="10.72" height="12.90" fill="#9daa3c"/>
<rect x="465.78" y="297.00" width="10.72" height="12.90" fill="#7a237d"/>
<rect x="476.20" y="234.00" width="10.72" height="12.90" fill="#1e1e0a"/>
<rect x="476.20" y="246.60" width="10.72" height="12.90" fill="#160818"/>
<rect x="476.20" y="259.20" width="10.72" height="12.90" fill="#0a0b0a"/>
<rect x="476.20" y="271.80" width="10.72" height="12.90" fill="#5a602e"/>
<rect x="476.20" y="284.40" width="10.72" height="12.90" fill="#4c5022"/>
<rect x="476.20" y="297.00" width="10.72" height="12.90" fill="#2e3212"/>
<rect x="486.62" y="234.00" width="10.72" height="12.90" fill="#641a66"/>
<rect x="486.62" y="246.60" width="10.72" height="12.90" fill="#160818"/>
<rect x="486.62" y="259.20" width="10.72" height="12.90" fill="#0a0b0a"/>
<rect x="486.62" y="271.80" width="10.72" height="12.90" fill="#808a34"/>
<rect x="486.62" y="284.40" width="10.72" height="12.90" fill="#9daa3c"/>
<rect x="486.62" y="297.00" width="10.72" height="12.90" fill="#2e3212"/>
<rect x="497.04" y="234.00" width="10.72" height="12.90" fill="#641a66"/>
<rect x="497.04" y="246.60" width="10.72" height="12.90" fill="#641a66"/>
<rect x="497.04" y="259.20" width="10.72" height="12.90" fill="#160818"/>
<rect x="497.04" y="271.80" width="10.72" height="12.90" fill="#641a66"/>
<rect x="497.04" y="284.40" width="10.72" height="12.90" fill="#2e3212"/>
<rect x="497.04" y="297.00" width="10.72" height="12.90" fill="#2e3212"/>
<rect x="507.46" y="234.00" width="10.72" height="12.90" fill="#160818"/>
<rect x="507.46" y="246.60" width="10.72" height="12.90" fill="#1e1e0a"/>
<rect x="507.46" y="259.20" width="10.72" height="12.90" fill="#0a0b0a"/>
<rect x="507.46" y="271.80" width="10.72" height="12.90" fill="#160818"/>
<rect x="507.46" y="284.40" width="10.72" height="12.90" fill="#4c5022"/>
<rect x="507.46" y="297.00" width="10.72" height="12.90" fill="#2e3212"/>
<rect x="517.88" y="234.00" width="10.72" height="12.90" fill="#1e1e0a"/>
<rect x="517.88" y="246.60" width="10.72" height="12.90" fill="#3a0c3a"/>
<rect x="517.88" y="259.20" width="10.72" height="12.90" fill="#4e124e"/>
<rect x="517.88" y="271.80" width="10.72" height="12.90" fill="#2e3212"/>
<rect x="517.88" y="284.40" width="10.72" height="12.90" fill="#4c5022"/>
<rect x="517.88" y="297.00" width="10.72" height="12.90" fill="#1e1e0a"/>
<rect x="528.30" y="234.00" width="10.72" height="12.90" fill="#ae5498"/>
<rect x="528.30" y="246.60" width="10.72" height="12.90" fill="#9daa3c"/>
<rect x="528.30" y="259.20" width="10.72" height="12.90" fill="#ae5498"/>
<rect x="528.30" y="271.80" width="10.72" height="12.90" fill="#9daa3c"/>
<rect x="528.30" y="284.40" width="10.72" height="12.90" fill="#5a602e"/>
<rect x="528.30" y="297.00" width="10.72" height="12.90" fill="#28092a"/>
<rect x="538.72" y="234.00" width="10.72" height="12.90" fill="#1e1e0a"/>
<rect x="538.72" y="246.60" width="10.72" height="12.90" fill="#0a0b0a"/>
<rect x="538.72" y="259.20" width="10.72" height="12.90" fill="#0a0b0a"/>
<rect x="538.72" y="271.80" width="10.72" height="12.90" fill="#4c5022"/>
<rect x="538.72" y="284.40" width="10.72" height="12.90" fill="#160818"/>
<rect x="538.72" y="297.00" width="10.72" height="12.90" fill="#160818"/>
</g>
<text transform="translate(175.31,315.8) rotate(-45)" x="0" y="0" font-size="7.3" text-anchor="end" fill="#000" stroke="#000" stroke-width="0.08">LHX4</text>
<text transform="translate(185.73,315.8) rotate(-45)" x="0" y="0" font-size="7.3" text-anchor="end" fill="#000" stroke="#000" stroke-width="0.08">CBX4</text>
<text transform="translate(196.15,315.8) rotate(-45)" x="0" y="0" font-size="7.3" text-anchor="end" fill="#000" stroke="#000" stroke-width="0.08">THRA</text>
<text transform="translate(206.57,315.8) rotate(-45)" x="0" y="0" font-size="7.3" text-anchor="end" fill="#000" stroke="#000" stroke-width="0.08">ZNF441</text>
<text transform="translate(216.99,315.8) rotate(-45)" x="0" y="0" font-size="7.3" text-anchor="end" fill="#000" stroke="#000" stroke-width="0.08">ZNF250</text>
<text transform="translate(227.41,315.8) rotate(-45)" x="0" y="0" font-size="7.3" text-anchor="end" fill="#000" stroke="#000" stroke-width="0.08">RAI14</text>
<text transform="translate(237.83,315.8) rotate(-45)" x="0" y="0" font-size="7.3" text-anchor="end" fill="#000" stroke="#000" stroke-width="0.08">TSC22D3</text>
<text transform="translate(248.25,315.8) rotate(-45)" x="0" y="0" font-size="7.3" text-anchor="end" fill="#000" stroke="#000" stroke-width="0.08">ZNF34</text>
<text transform="translate(258.67,315.8) rotate(-45)" x="0" y="0" font-size="7.3" text-anchor="end" fill="#000" stroke="#000" stroke-width="0.08">NFAT5</text>
<text transform="translate(269.09,315.8) rotate(-45)" x="0" y="0" font-size="7.3" text-anchor="end" fill="#000" stroke="#000" stroke-width="0.08">ZNF440</text>
<text transform="translate(279.51,315.8) rotate(-45)" x="0" y="0" font-size="7.3" text-anchor="end" fill="#000" stroke="#000" stroke-width="0.08">ZNF136</text>
<text transform="translate(289.93,315.8) rotate(-45)" x="0" y="0" font-size="7.3" text-anchor="end" fill="#000" stroke="#000" stroke-width="0.08">JUND</text>
<text transform="translate(300.35,315.8) rotate(-45)" x="0" y="0" font-size="7.3" text-anchor="end" fill="#000" stroke="#000" stroke-width="0.08">BRWD1</text>
<text transform="translate(310.77,315.8) rotate(-45)" x="0" y="0" font-size="7.3" text-anchor="end" fill="#000" stroke="#000" stroke-width="0.08">PRDM6</text>
<text transform="translate(321.19,315.8) rotate(-45)" x="0" y="0" font-size="7.3" text-anchor="end" fill="#000" stroke="#000" stroke-width="0.08">MLLT6</text>
<text transform="translate(331.61,315.8) rotate(-45)" x="0" y="0" font-size="7.3" text-anchor="end" fill="#000" stroke="#000" stroke-width="0.08">ZNF554</text>
<text transform="translate(342.03,315.8) rotate(-45)" x="0" y="0" font-size="7.3" text-anchor="end" fill="#000" stroke="#000" stroke-width="0.08">NKX3-2</text>
<text transform="translate(352.45,315.8) rotate(-45)" x="0" y="0" font-size="7.3" text-anchor="end" fill="#000" stroke="#000" stroke-width="0.08">EMX1</text>
<text transform="translate(362.87,315.8) rotate(-45)" x="0" y="0" font-size="7.3" text-anchor="end" fill="#000" stroke="#000" stroke-width="0.08">JADE3</text>
<text transform="translate(373.29,315.8) rotate(-45)" x="0" y="0" font-size="7.3" text-anchor="end" fill="#000" stroke="#000" stroke-width="0.08">ARID1B</text>
<text transform="translate(383.71,315.8) rotate(-45)" x="0" y="0" font-size="7.3" text-anchor="end" fill="#000" stroke="#000" stroke-width="0.08">MPHOSPH8</text>
<text transform="translate(394.13,315.8) rotate(-45)" x="0" y="0" font-size="7.3" text-anchor="end" fill="#000" stroke="#000" stroke-width="0.08">ZKSCAN3</text>
<text transform="translate(404.55,315.8) rotate(-45)" x="0" y="0" font-size="7.3" text-anchor="end" fill="#000" stroke="#000" stroke-width="0.08">KLF10</text>
<text transform="translate(414.97,315.8) rotate(-45)" x="0" y="0" font-size="7.3" text-anchor="end" fill="#000" stroke="#000" stroke-width="0.08">ZNF671</text>
<text transform="translate(425.39,315.8) rotate(-45)" x="0" y="0" font-size="7.3" text-anchor="end" fill="#000" stroke="#000" stroke-width="0.08">TCEA2</text>
<text transform="translate(435.81,315.8) rotate(-45)" x="0" y="0" font-size="7.3" text-anchor="end" fill="#000" stroke="#000" stroke-width="0.08">AIP</text>
<text transform="translate(446.23,315.8) rotate(-45)" x="0" y="0" font-size="7.3" text-anchor="end" fill="#000" stroke="#000" stroke-width="0.08">MECP2</text>
<text transform="translate(456.65,315.8) rotate(-45)" x="0" y="0" font-size="7.3" text-anchor="end" fill="#000" stroke="#000" stroke-width="0.08">ZNF3</text>
<text transform="translate(467.07,315.8) rotate(-45)" x="0" y="0" font-size="7.3" text-anchor="end" fill="#000" stroke="#000" stroke-width="0.08">NKRF</text>
<text transform="translate(477.49,315.8) rotate(-45)" x="0" y="0" font-size="7.3" text-anchor="end" fill="#000" stroke="#000" stroke-width="0.08">MEOX2</text>
<text transform="translate(487.91,315.8) rotate(-45)" x="0" y="0" font-size="7.3" text-anchor="end" fill="#000" stroke="#000" stroke-width="0.08">POLR2B</text>
<text transform="translate(498.33,315.8) rotate(-45)" x="0" y="0" font-size="7.3" text-anchor="end" fill="#000" stroke="#000" stroke-width="0.08">JUNB</text>
<text transform="translate(508.75,315.8) rotate(-45)" x="0" y="0" font-size="7.3" text-anchor="end" fill="#000" stroke="#000" stroke-width="0.08">TFEB</text>
<text transform="translate(519.17,315.8) rotate(-45)" x="0" y="0" font-size="7.3" text-anchor="end" fill="#000" stroke="#000" stroke-width="0.08">ZNF324</text>
<text transform="translate(529.59,315.8) rotate(-45)" x="0" y="0" font-size="7.3" text-anchor="end" fill="#000" stroke="#000" stroke-width="0.08">APBB2</text>
<text transform="translate(540.01,315.8) rotate(-45)" x="0" y="0" font-size="7.3" text-anchor="end" fill="#000" stroke="#000" stroke-width="0.08">ZNF547</text>
<text transform="translate(550.43,315.8) rotate(-45)" x="0" y="0" font-size="7.3" text-anchor="end" fill="#000" stroke="#000" stroke-width="0.08">ARNTL</text>
<g shape-rendering="crispEdges">
<rect x="556.20" y="234.00" width="10.69" height="12.90" fill="#4c5022"/>
<rect x="556.20" y="246.60" width="10.69" height="12.90" fill="#5a602e"/>
<rect x="556.20" y="259.20" width="10.69" height="12.90" fill="#808a34"/>
<rect x="556.20" y="271.80" width="10.69" height="12.90" fill="#4c5022"/>
<rect x="556.20" y="284.40" width="10.69" height="12.90" fill="#641a66"/>
<rect x="556.20" y="297.00" width="10.69" height="12.90" fill="#ae5498"/>
<rect x="566.59" y="234.00" width="10.69" height="12.90" fill="#5a602e"/>
<rect x="566.59" y="246.60" width="10.69" height="12.90" fill="#2e3212"/>
<rect x="566.59" y="259.20" width="10.69" height="12.90" fill="#808a34"/>
<rect x="566.59" y="271.80" width="10.69" height="12.90" fill="#1e1e0a"/>
<rect x="566.59" y="284.40" width="10.69" height="12.90" fill="#a0469b"/>
<rect x="566.59" y="297.00" width="10.69" height="12.90" fill="#ae5498"/>
<rect x="576.98" y="234.00" width="10.69" height="12.90" fill="#9daa3c"/>
<rect x="576.98" y="246.60" width="10.69" height="12.90" fill="#2e3212"/>
<rect x="576.98" y="259.20" width="10.69" height="12.90" fill="#2e3212"/>
<rect x="576.98" y="271.80" width="10.69" height="12.90" fill="#ae5498"/>
<rect x="576.98" y="284.40" width="10.69" height="12.90" fill="#641a66"/>
<rect x="576.98" y="297.00" width="10.69" height="12.90" fill="#ae5498"/>
<rect x="587.37" y="234.00" width="10.69" height="12.90" fill="#5a602e"/>
<rect x="587.37" y="246.60" width="10.69" height="12.90" fill="#2e3212"/>
<rect x="587.37" y="259.20" width="10.69" height="12.90" fill="#0a0b0a"/>
<rect x="587.37" y="271.80" width="10.69" height="12.90" fill="#5a602e"/>
<rect x="587.37" y="284.40" width="10.69" height="12.90" fill="#0a0b0a"/>
<rect x="587.37" y="297.00" width="10.69" height="12.90" fill="#ae5498"/>
<rect x="597.76" y="234.00" width="10.69" height="12.90" fill="#9daa3c"/>
<rect x="597.76" y="246.60" width="10.69" height="12.90" fill="#d8dc38"/>
<rect x="597.76" y="259.20" width="10.69" height="12.90" fill="#3a0c3a"/>
<rect x="597.76" y="271.80" width="10.69" height="12.90" fill="#ae5498"/>
<rect x="597.76" y="284.40" width="10.69" height="12.90" fill="#ae5498"/>
<rect x="597.76" y="297.00" width="10.69" height="12.90" fill="#ae5498"/>
<rect x="608.15" y="234.00" width="10.69" height="12.90" fill="#2e3212"/>
<rect x="608.15" y="246.60" width="10.69" height="12.90" fill="#2e3212"/>
<rect x="608.15" y="259.20" width="10.69" height="12.90" fill="#2e3212"/>
<rect x="608.15" y="271.80" width="10.69" height="12.90" fill="#641a66"/>
<rect x="608.15" y="284.40" width="10.69" height="12.90" fill="#160818"/>
<rect x="608.15" y="297.00" width="10.69" height="12.90" fill="#ae5498"/>
<rect x="618.54" y="234.00" width="10.69" height="12.90" fill="#4c5022"/>
<rect x="618.54" y="246.60" width="10.69" height="12.90" fill="#5a602e"/>
<rect x="618.54" y="259.20" width="10.69" height="12.90" fill="#913794"/>
<rect x="618.54" y="271.80" width="10.69" height="12.90" fill="#4e124e"/>
<rect x="618.54" y="284.40" width="10.69" height="12.90" fill="#1e1e0a"/>
<rect x="618.54" y="297.00" width="10.69" height="12.90" fill="#ae5498"/>
<rect x="628.93" y="234.00" width="10.69" height="12.90" fill="#160818"/>
<rect x="628.93" y="246.60" width="10.69" height="12.90" fill="#beca3a"/>
<rect x="628.93" y="259.20" width="10.69" height="12.90" fill="#3a0c3a"/>
<rect x="628.93" y="271.80" width="10.69" height="12.90" fill="#7a237d"/>
<rect x="628.93" y="284.40" width="10.69" height="12.90" fill="#ae5498"/>
<rect x="628.93" y="297.00" width="10.69" height="12.90" fill="#a0469b"/>
<rect x="639.32" y="234.00" width="10.69" height="12.90" fill="#0a0b0a"/>
<rect x="639.32" y="246.60" width="10.69" height="12.90" fill="#a0469b"/>
<rect x="639.32" y="259.20" width="10.69" height="12.90" fill="#160818"/>
<rect x="639.32" y="271.80" width="10.69" height="12.90" fill="#a0469b"/>
<rect x="639.32" y="284.40" width="10.69" height="12.90" fill="#ae5498"/>
<rect x="639.32" y="297.00" width="10.69" height="12.90" fill="#a0469b"/>
<rect x="649.71" y="234.00" width="10.69" height="12.90" fill="#4c5022"/>
<rect x="649.71" y="246.60" width="10.69" height="12.90" fill="#5a602e"/>
<rect x="649.71" y="259.20" width="10.69" height="12.90" fill="#1e1e0a"/>
<rect x="649.71" y="271.80" width="10.69" height="12.90" fill="#ae5498"/>
<rect x="649.71" y="284.40" width="10.69" height="12.90" fill="#3a0c3a"/>
<rect x="649.71" y="297.00" width="10.69" height="12.90" fill="#913794"/>
<rect x="660.10" y="234.00" width="10.69" height="12.90" fill="#5a602e"/>
<rect x="660.10" y="246.60" width="10.69" height="12.90" fill="#2e3212"/>
<rect x="660.10" y="259.20" width="10.69" height="12.90" fill="#28092a"/>
<rect x="660.10" y="271.80" width="10.69" height="12.90" fill="#0a0b0a"/>
<rect x="660.10" y="284.40" width="10.69" height="12.90" fill="#ae5498"/>
<rect x="660.10" y="297.00" width="10.69" height="12.90" fill="#2e3212"/>
<rect x="670.49" y="234.00" width="10.69" height="12.90" fill="#5a602e"/>
<rect x="670.49" y="246.60" width="10.69" height="12.90" fill="#28092a"/>
<rect x="670.49" y="259.20" width="10.69" height="12.90" fill="#28092a"/>
<rect x="670.49" y="271.80" width="10.69" height="12.90" fill="#a0469b"/>
<rect x="670.49" y="284.40" width="10.69" height="12.90" fill="#a0469b"/>
<rect x="670.49" y="297.00" width="10.69" height="12.90" fill="#160818"/>
</g>
<text transform="translate(565.20,315.8) rotate(-45)" x="0" y="0" font-size="7.3" text-anchor="end" fill="#000" stroke="#000" stroke-width="0.08">SMAD3</text>
<text transform="translate(575.59,315.8) rotate(-45)" x="0" y="0" font-size="7.3" text-anchor="end" fill="#000" stroke="#000" stroke-width="0.08">HTATIP2</text>
<text transform="translate(585.98,315.8) rotate(-45)" x="0" y="0" font-size="7.3" text-anchor="end" fill="#000" stroke="#000" stroke-width="0.08">SOX15</text>
<text transform="translate(596.37,315.8) rotate(-45)" x="0" y="0" font-size="7.3" text-anchor="end" fill="#000" stroke="#000" stroke-width="0.08">TAF5</text>
<text transform="translate(606.75,315.8) rotate(-45)" x="0" y="0" font-size="7.3" text-anchor="end" fill="#000" stroke="#000" stroke-width="0.08">CDX4</text>
<text transform="translate(617.14,315.8) rotate(-45)" x="0" y="0" font-size="7.3" text-anchor="end" fill="#000" stroke="#000" stroke-width="0.08">NFKBIB</text>
<text transform="translate(627.53,315.8) rotate(-45)" x="0" y="0" font-size="7.3" text-anchor="end" fill="#000" stroke="#000" stroke-width="0.08">ZNF282</text>
<text transform="translate(637.92,315.8) rotate(-45)" x="0" y="0" font-size="7.3" text-anchor="end" fill="#000" stroke="#000" stroke-width="0.08">HIST1H2BC</text>
<text transform="translate(648.32,315.8) rotate(-45)" x="0" y="0" font-size="7.3" text-anchor="end" fill="#000" stroke="#000" stroke-width="0.08">NR1I2</text>
<text transform="translate(658.71,315.8) rotate(-45)" x="0" y="0" font-size="7.3" text-anchor="end" fill="#000" stroke="#000" stroke-width="0.08">AHR</text>
<text transform="translate(669.10,315.8) rotate(-45)" x="0" y="0" font-size="7.3" text-anchor="end" fill="#000" stroke="#000" stroke-width="0.08">TSHZ3</text>
<text transform="translate(679.49,315.8) rotate(-45)" x="0" y="0" font-size="7.3" text-anchor="end" fill="#000" stroke="#000" stroke-width="0.08">HIF3A</text>
<line x1="56.60" y1="228.90" x2="153.90" y2="228.90" stroke="#8c8c8c" stroke-width="1.6"/>
<text x="109.80" y="222.70" font-size="14" text-anchor="middle" fill="#222" stroke="#222" stroke-width="0.15">Cluster A</text>
<line x1="166.00" y1="228.90" x2="544.70" y2="228.90" stroke="#8c8c8c" stroke-width="1.6"/>
<text x="363.00" y="222.70" font-size="14" text-anchor="middle" fill="#222" stroke="#222" stroke-width="0.15">Cluster B</text>
<line x1="559.90" y1="228.90" x2="675.30" y2="228.90" stroke="#8c8c8c" stroke-width="1.6"/>
<text x="618.90" y="222.70" font-size="14" text-anchor="middle" fill="#222" stroke="#222" stroke-width="0.15">Cluster C</text>
<text x="50.50" y="243.80" font-size="9.2" text-anchor="end" fill="#231f20" stroke="#231f20" stroke-width="0.15">0</text>
<text x="50.50" y="257.00" font-size="9.2" text-anchor="end" fill="#231f20" stroke="#231f20" stroke-width="0.15">0.5</text>
<text x="50.50" y="269.70" font-size="9.2" text-anchor="end" fill="#231f20" stroke="#231f20" stroke-width="0.15">1</text>
<text x="50.50" y="283.10" font-size="9.2" text-anchor="end" fill="#231f20" stroke="#231f20" stroke-width="0.15">2</text>
<text x="50.50" y="296.50" font-size="9.2" text-anchor="end" fill="#231f20" stroke="#231f20" stroke-width="0.15">4</text>
<text x="50.50" y="309.20" font-size="9.2" text-anchor="end" fill="#231f20" stroke="#231f20" stroke-width="0.15">7</text>
<text transform="translate(25.80,276.30) rotate(-90)" x="0" y="3.50" font-size="10" text-anchor="middle" fill="#231f20" stroke="#231f20" stroke-width="0.15">Days post-induction</text>
<text x="364.70" y="356.70" font-size="11.3" text-anchor="middle" fill="#222" stroke="#222" stroke-width="0.15">CRISPR screen candidate TFs</text>
<defs><linearGradient id="cb" x1="0" x2="1" y1="0" y2="0"><stop offset="0" stop-color="#b454a4"/><stop offset="0.18" stop-color="#7a1e7a"/><stop offset="0.34" stop-color="#0a0808"/><stop offset="0.67" stop-color="#6a6a28"/><stop offset="1" stop-color="#e2e43c"/></linearGradient></defs>
<rect x="623.90" y="351.00" width="58.20" height="7.50" fill="url(#cb)" stroke="none" stroke-width="1"/>
<line x1="625.80" y1="357.00" x2="625.80" y2="358.50" stroke="#fff" stroke-width="0.6"/>
<line x1="643.60" y1="357.00" x2="643.60" y2="358.50" stroke="#fff" stroke-width="0.6"/>
<line x1="661.50" y1="357.00" x2="661.50" y2="358.50" stroke="#fff" stroke-width="0.6"/>
<line x1="679.40" y1="357.00" x2="679.40" y2="358.50" stroke="#fff" stroke-width="0.6"/>
<text x="625.20" y="366.30" font-size="8" text-anchor="middle" fill="#231f20" stroke="#231f20" stroke-width="0.15">-1</text>
<text x="643.70" y="366.30" font-size="8" text-anchor="middle" fill="#231f20" stroke="#231f20" stroke-width="0.15">0</text>
<text x="661.70" y="366.30" font-size="8" text-anchor="middle" fill="#231f20" stroke="#231f20" stroke-width="0.15">1</text>
<text x="679.10" y="366.30" font-size="8" text-anchor="middle" fill="#231f20" stroke="#231f20" stroke-width="0.15">2</text>
<text x="623.60" y="348.40" font-size="7.5" text-anchor="start" fill="#231f20">Fold-change (log<tspan font-size="5" dy="1.5">2</tspan><tspan dy="-1.5">)</tspan></text>
<line x1="53.70" y1="390.90" x2="53.70" y2="495.40" stroke="#231f20" stroke-width="1" shape-rendering="crispEdges"/>
<line x1="53.70" y1="495.40" x2="263.90" y2="495.40" stroke="#231f20" stroke-width="1" shape-rendering="crispEdges"/>
<line x1="51.20" y1="390.90" x2="53.70" y2="390.90" stroke="#231f20" stroke-width="1" shape-rendering="crispEdges"/>
<text x="50.70" y="393.80" font-size="8.7" text-anchor="end" fill="#222" stroke="#222" stroke-width="0.15">20</text>
<line x1="51.20" y1="424.05" x2="53.70" y2="424.05" stroke="#231f20" stroke-width="1" shape-rendering="crispEdges"/>
<text x="50.70" y="426.95" font-size="8.7" text-anchor="end" fill="#222" stroke="#222" stroke-width="0.15">15</text>
<line x1="51.20" y1="457.20" x2="53.70" y2="457.20" stroke="#231f20" stroke-width="1" shape-rendering="crispEdges"/>
<text x="50.70" y="460.10" font-size="8.7" text-anchor="end" fill="#222" stroke="#222" stroke-width="0.15">10</text>
<line x1="51.20" y1="490.35" x2="53.70" y2="490.35" stroke="#231f20" stroke-width="1" shape-rendering="crispEdges"/>
<text x="50.70" y="493.25" font-size="8.7" text-anchor="end" fill="#222" stroke="#222" stroke-width="0.15">5</text>
<line x1="93.10" y1="495.40" x2="93.10" y2="497.90" stroke="#231f20" stroke-width="1"/>
<text x="93.10" y="506.30" font-size="9" text-anchor="middle" fill="#231f20" stroke="#231f20" stroke-width="0.15">0.5</text>
<line x1="158.70" y1="495.40" x2="158.70" y2="497.90" stroke="#231f20" stroke-width="1"/>
<text x="158.70" y="506.30" font-size="9" text-anchor="middle" fill="#231f20" stroke="#231f20" stroke-width="0.15">1</text>
<line x1="224.50" y1="495.40" x2="224.50" y2="497.90" stroke="#231f20" stroke-width="1"/>
<text x="224.50" y="506.30" font-size="9" text-anchor="middle" fill="#231f20" stroke="#231f20" stroke-width="0.15">4</text>
<text x="157.50" y="519.00" font-size="9.7" text-anchor="middle" fill="#231f20" stroke="#231f20" stroke-width="0.15">Days post-<tspan font-style="italic">NEUROG1/2</tspan> induction</text>
<text transform="translate(29.30,439.70) rotate(-90)" x="0" y="3.43" font-size="9.8" text-anchor="middle" fill="#231f20" stroke="#231f20" stroke-width="0.15">Normalized ATAC (to t<tspan font-size="6.5" dy="2">0</tspan><tspan dy="-2">)</tspan></text>
<line x1="76.55" y1="397.50" x2="76.55" y2="399.30" stroke="#777" stroke-width="1"/>
<line x1="76.55" y1="447.10" x2="76.55" y2="471.10" stroke="#777" stroke-width="1"/>
<rect x="69.30" y="399.30" width="14.50" height="47.80" fill="#f2716b" stroke="#4a4a4a" stroke-width="0.9"/>
<line x1="69.30" y1="429.40" x2="83.80" y2="429.40" stroke="#4a4a4a" stroke-width="1"/>
<line x1="92.95" y1="419.40" x2="92.95" y2="450.40" stroke="#c8c8c8" stroke-width="1"/>
<line x1="92.95" y1="473.40" x2="92.95" y2="484.60" stroke="#c8c8c8" stroke-width="1"/>
<rect x="85.50" y="450.40" width="14.90" height="23.00" fill="#9fc9ec" stroke="#4a4a4a" stroke-width="0.9"/>
<line x1="85.50" y1="464.40" x2="100.40" y2="464.40" stroke="#4a4a4a" stroke-width="1"/>
<line x1="109.25" y1="409.40" x2="109.25" y2="426.40" stroke="#555" stroke-width="1"/>
<line x1="109.25" y1="466.40" x2="109.25" y2="476.70" stroke="#555" stroke-width="1"/>
<rect x="101.80" y="426.40" width="14.90" height="40.00" fill="#b498cb" stroke="#4a4a4a" stroke-width="0.9"/>
<line x1="101.80" y1="463.70" x2="116.70" y2="463.70" stroke="#4a4a4a" stroke-width="1"/>
<line x1="142.10" y1="398.40" x2="142.10" y2="401.00" stroke="#888" stroke-width="1"/>
<line x1="142.10" y1="447.10" x2="142.10" y2="465.80" stroke="#888" stroke-width="1"/>
<rect x="134.60" y="401.00" width="15.00" height="46.10" fill="#f2716b" stroke="#4a4a4a" stroke-width="0.9"/>
<line x1="134.60" y1="428.20" x2="149.60" y2="428.20" stroke="#4a4a4a" stroke-width="1"/>
<line x1="158.85" y1="422.00" x2="158.85" y2="449.60" stroke="#555" stroke-width="1"/>
<line x1="158.85" y1="473.70" x2="158.85" y2="480.70" stroke="#555" stroke-width="1"/>
<rect x="151.40" y="449.60" width="14.90" height="24.10" fill="#9fc9ec" stroke="#4a4a4a" stroke-width="0.9"/>
<line x1="151.40" y1="464.40" x2="166.30" y2="464.40" stroke="#4a4a4a" stroke-width="1"/>
<line x1="175.05" y1="411.90" x2="175.05" y2="427.00" stroke="#999" stroke-width="1"/>
<line x1="175.05" y1="463.60" x2="175.05" y2="474.60" stroke="#999" stroke-width="1"/>
<rect x="167.50" y="427.00" width="15.10" height="36.60" fill="#b498cb" stroke="#4a4a4a" stroke-width="0.9"/>
<line x1="167.50" y1="462.80" x2="182.60" y2="462.80" stroke="#4a4a4a" stroke-width="1"/>
<line x1="208.05" y1="405.90" x2="208.05" y2="407.70" stroke="#bbb" stroke-width="1"/>
<line x1="208.05" y1="438.20" x2="208.05" y2="467.60" stroke="#bbb" stroke-width="1"/>
<rect x="200.40" y="407.70" width="15.30" height="30.50" fill="#f2716b" stroke="#4a4a4a" stroke-width="0.9"/>
<line x1="200.40" y1="422.40" x2="215.70" y2="422.40" stroke="#4a4a4a" stroke-width="1"/>
<line x1="224.35" y1="408.90" x2="224.35" y2="444.50" stroke="#555" stroke-width="1"/>
<line x1="224.35" y1="468.80" x2="224.35" y2="474.10" stroke="#555" stroke-width="1"/>
<rect x="217.10" y="444.50" width="14.50" height="24.30" fill="#9fc9ec" stroke="#4a4a4a" stroke-width="0.9"/>
<line x1="217.10" y1="456.20" x2="231.60" y2="456.20" stroke="#4a4a4a" stroke-width="1"/>
<line x1="241.00" y1="430.30" x2="241.00" y2="442.20" stroke="#888" stroke-width="1"/>
<line x1="241.00" y1="456.20" x2="241.00" y2="468.80" stroke="#888" stroke-width="1"/>
<rect x="233.40" y="442.20" width="15.20" height="14.00" fill="#b498cb" stroke="#4a4a4a" stroke-width="0.9"/>
<line x1="233.40" y1="449.60" x2="248.60" y2="449.60" stroke="#4a4a4a" stroke-width="1"/>
<text x="254.80" y="392.70" font-size="10" text-anchor="start" fill="#231f20" stroke="#231f20" stroke-width="0.15">neTF</text>
<text x="254.80" y="401.30" font-size="10" text-anchor="start" fill="#231f20" stroke="#231f20" stroke-width="0.15">cluster</text>
<rect x="258.10" y="405.30" width="8.50" height="8.50" fill="#f2716b" stroke="none" stroke-width="1"/>
<text x="270.00" y="412.50" font-size="10" text-anchor="start" fill="#231f20" stroke="#231f20" stroke-width="0.15">A</text>
<rect x="258.10" y="419.00" width="8.50" height="8.50" fill="#9fc9ec" stroke="none" stroke-width="1"/>
<text x="270.00" y="426.20" font-size="10" text-anchor="start" fill="#231f20" stroke="#231f20" stroke-width="0.15">B</text>
<rect x="258.10" y="431.60" width="8.50" height="8.50" fill="#b498cb" stroke="none" stroke-width="1"/>
<text x="270.00" y="438.80" font-size="10" text-anchor="start" fill="#231f20" stroke="#231f20" stroke-width="0.15">C</text>
<line x1="56.90" y1="556.10" x2="56.90" y2="682.20" stroke="#231f20" stroke-width="1" shape-rendering="crispEdges"/>
<line x1="56.90" y1="682.20" x2="130.50" y2="682.20" stroke="#231f20" stroke-width="1" shape-rendering="crispEdges"/>
<line x1="54.40" y1="556.10" x2="56.90" y2="556.10" stroke="#231f20" stroke-width="1" shape-rendering="crispEdges"/>
<text x="53.90" y="559.00" font-size="8.7" text-anchor="end" fill="#222" stroke="#222" stroke-width="0.15">100</text>
<line x1="54.40" y1="619.15" x2="56.90" y2="619.15" stroke="#231f20" stroke-width="1" shape-rendering="crispEdges"/>
<text x="53.90" y="622.05" font-size="8.7" text-anchor="end" fill="#222" stroke="#222" stroke-width="0.15">50</text>
<line x1="54.40" y1="682.20" x2="56.90" y2="682.20" stroke="#231f20" stroke-width="1" shape-rendering="crispEdges"/>
<text x="53.90" y="685.10" font-size="8.7" text-anchor="end" fill="#222" stroke="#222" stroke-width="0.15">0</text>
<rect x="66.00" y="569.34" width="14.10" height="112.86" fill="#f2716b" stroke="#222" stroke-width="1" shape-rendering="crispEdges"/>
<line x1="73.05" y1="682.20" x2="73.05" y2="684.70" stroke="#231f20" stroke-width="1"/>
<text x="73.05" y="698.50" font-size="9.5" text-anchor="middle" fill="#231f20" stroke="#231f20" stroke-width="0.15">A</text>
<rect x="88.20" y="648.15" width="13.90" height="34.05" fill="#9fc9ec" stroke="#222" stroke-width="1" shape-rendering="crispEdges"/>
<line x1="95.15" y1="682.20" x2="95.15" y2="684.70" stroke="#231f20" stroke-width="1"/>
<text x="95.15" y="698.50" font-size="9.5" text-anchor="middle" fill="#231f20" stroke="#231f20" stroke-width="0.15">B</text>
<rect x="109.90" y="661.27" width="14.30" height="20.93" fill="#b498cb" stroke="#222" stroke-width="1" shape-rendering="crispEdges"/>
<line x1="117.05" y1="682.20" x2="117.05" y2="684.70" stroke="#231f20" stroke-width="1"/>
<text x="117.05" y="698.50" font-size="9.5" text-anchor="middle" fill="#231f20" stroke="#231f20" stroke-width="0.15">C</text>
<text x="94.50" y="712.30" font-size="10" text-anchor="middle" fill="#231f20" stroke="#231f20" stroke-width="0.15">neTF cluster</text>
<text transform="translate(37.90,617.00) rotate(-90)" x="0" y="3.74" font-size="10.7" text-anchor="middle" fill="#231f20" stroke="#231f20" stroke-width="0.15">NEUROG1/2 network (%)</text>
<text x="174.20" y="557.60" font-size="9.8" text-anchor="start" fill="#231f20" stroke="#231f20" stroke-width="0.15"><tspan font-style="italic">NEUROG1/2</tspan> TF network</text>
<circle cx="228.0" cy="597.0" r="14.5" fill="#fff" stroke="#f2716b" stroke-width="2.6"/>
<text x="228.00" y="603.30" font-size="17.5" text-anchor="middle" fill="#111" stroke="#111" stroke-width="0.15">A</text>
<circle cx="185.5" cy="658.2" r="14.5" fill="#fff" stroke="#9fc9ec" stroke-width="2.6"/>
<text x="185.50" y="664.50" font-size="17.5" text-anchor="middle" fill="#111" stroke="#111" stroke-width="0.15">B</text>
<circle cx="270.6" cy="658.2" r="14.5" fill="#fff" stroke="#b498cb" stroke-width="2.6"/>
<text x="270.60" y="664.50" font-size="17.5" text-anchor="middle" fill="#111" stroke="#111" stroke-width="0.15">C</text>
<path d="M217.6,583.2 C212.5,569 225,563.5 232,566.2 C237.5,568.2 240.2,572 240.4,577.5" fill="none" stroke="#111" stroke-width="2.9"/>
<path d="M236.2,576.0 L245.0,575.6 L240.7,583.6 Z" fill="#111"/>
<path d="M213.5,604.3 C198,608 186,619 185.4,635" fill="none" stroke="#111" stroke-width="2.9"/>
<path d="M179.5,633.5 L191.5,633.5 L185.3,643 Z" fill="#111"/>
<path d="M243.5,604.5 C262,606 271.5,622 271,641" fill="none" stroke="#111" stroke-width="0.6"/>
<path d="M269.5,639 L272.6,639 L271.1,643.2 Z" fill="#111"/>
<g>
<line x1="456.25" y1="428.21" x2="403.36" y2="477.52" stroke="#b0b0b0" stroke-width="0.7"/>
<polygon points="403.36,477.52 404.97,473.97 407.01,476.16" fill="#999"/>
<line x1="502.23" y1="426.28" x2="404.49" y2="479.09" stroke="#b0b0b0" stroke-width="0.7"/>
<polygon points="404.49,479.09 406.94,476.06 408.37,478.70" fill="#999"/>
<line x1="504.23" y1="428.57" x2="455.09" y2="495.77" stroke="#b0b0b0" stroke-width="0.7"/>
<polygon points="455.09,495.77 456.00,491.97 458.42,493.74" fill="#999"/>
<line x1="509.73" y1="429.75" x2="523.33" y2="494.16" stroke="#b0b0b0" stroke-width="0.7"/>
<polygon points="523.33,494.16 521.12,490.95 524.05,490.33" fill="#999"/>
<line x1="513.31" y1="427.75" x2="565.78" y2="477.47" stroke="#b0b0b0" stroke-width="0.7"/>
<polygon points="565.78,477.47 562.14,476.08 564.20,473.91" fill="#999"/>
<line x1="507.57" y1="429.86" x2="494.30" y2="554.84" stroke="#b0b0b0" stroke-width="0.7"/>
<polygon points="494.30,554.84 493.19,551.10 496.17,551.42" fill="#999"/>
<line x1="511.84" y1="428.92" x2="587.70" y2="555.88" stroke="#b0b0b0" stroke-width="0.7"/>
<polygon points="587.70,555.88 584.57,553.56 587.14,552.02" fill="#999"/>
<line x1="507.40" y1="429.84" x2="480.29" y2="636.36" stroke="#b0b0b0" stroke-width="0.7"/>
<polygon points="480.29,636.36 479.27,632.60 482.25,632.99" fill="#999"/>
<line x1="505.09" y1="429.11" x2="443.04" y2="547.17" stroke="#b0b0b0" stroke-width="0.7"/>
<polygon points="443.04,547.17 443.38,543.29 446.04,544.68" fill="#999"/>
<line x1="508.68" y1="429.89" x2="519.88" y2="632.41" stroke="#b0b0b0" stroke-width="0.7"/>
<polygon points="519.88,632.41 518.18,628.90 521.18,628.73" fill="#999"/>
<line x1="564.40" y1="482.66" x2="491.80" y2="482.24" stroke="#b0b0b0" stroke-width="0.7"/>
<polygon points="491.80,482.24 495.41,480.76 495.39,483.76" fill="#999"/>
<line x1="477.30" y1="482.24" x2="405.40" y2="482.66" stroke="#b0b0b0" stroke-width="0.7"/>
<polygon points="405.40,482.66 408.99,481.14 409.01,484.14" fill="#999"/>
<line x1="573.00" y1="489.39" x2="589.72" y2="555.04" stroke="#b0b0b0" stroke-width="0.7"/>
<polygon points="589.72,555.04 587.38,551.92 590.29,551.18" fill="#999"/>
<line x1="571.51" y1="489.60" x2="575.37" y2="616.20" stroke="#b0b0b0" stroke-width="0.7"/>
<polygon points="575.37,616.20 573.76,612.65 576.76,612.56" fill="#999"/>
<line x1="566.48" y1="487.64" x2="498.81" y2="556.96" stroke="#b0b0b0" stroke-width="0.7"/>
<polygon points="498.81,556.96 500.25,553.34 502.40,555.43" fill="#999"/>
<line x1="565.23" y1="485.98" x2="446.19" y2="550.29" stroke="#b0b0b0" stroke-width="0.7"/>
<polygon points="446.19,550.29 448.64,547.26 450.07,549.90" fill="#999"/>
<line x1="568.37" y1="488.95" x2="541.03" y2="547.12" stroke="#b0b0b0" stroke-width="0.7"/>
<polygon points="541.03,547.12 541.21,543.23 543.92,544.50" fill="#999"/>
<line x1="564.49" y1="483.78" x2="458.11" y2="500.71" stroke="#b0b0b0" stroke-width="0.7"/>
<polygon points="458.11,500.71 461.43,498.66 461.90,501.62" fill="#999"/>
<line x1="518.00" y1="501.63" x2="458.20" y2="501.87" stroke="#b0b0b0" stroke-width="0.7"/>
<polygon points="458.20,501.87 461.79,500.35 461.81,503.35" fill="#999"/>
<line x1="518.08" y1="500.59" x2="405.32" y2="483.82" stroke="#b0b0b0" stroke-width="0.7"/>
<polygon points="405.32,483.82 409.10,482.86 408.66,485.83" fill="#999"/>
<line x1="519.02" y1="505.20" x2="445.98" y2="549.93" stroke="#b0b0b0" stroke-width="0.7"/>
<polygon points="445.98,549.93 448.27,546.77 449.83,549.33" fill="#999"/>
<line x1="521.73" y1="507.73" x2="496.99" y2="555.65" stroke="#b0b0b0" stroke-width="0.7"/>
<polygon points="496.99,555.65 497.31,551.76 499.97,553.14" fill="#999"/>
<line x1="530.00" y1="506.25" x2="585.98" y2="557.28" stroke="#b0b0b0" stroke-width="0.7"/>
<polygon points="585.98,557.28 582.31,555.96 584.33,553.75" fill="#999"/>
<line x1="526.55" y1="508.30" x2="535.98" y2="546.62" stroke="#b0b0b0" stroke-width="0.7"/>
<polygon points="535.98,546.62 533.67,543.48 536.58,542.77" fill="#999"/>
<line x1="524.67" y1="508.50" x2="520.55" y2="632.40" stroke="#b0b0b0" stroke-width="0.7"/>
<polygon points="520.55,632.40 519.17,628.76 522.17,628.86" fill="#999"/>
<line x1="526.40" y1="508.33" x2="557.74" y2="648.78" stroke="#b0b0b0" stroke-width="0.7"/>
<polygon points="557.74,648.78 555.50,645.60 558.42,644.94" fill="#999"/>
<line x1="522.79" y1="508.17" x2="481.62" y2="636.66" stroke="#b0b0b0" stroke-width="0.7"/>
<polygon points="481.62,636.66 481.29,632.78 484.15,633.69" fill="#999"/>
<line x1="523.53" y1="508.36" x2="504.41" y2="602.75" stroke="#b0b0b0" stroke-width="0.7"/>
<polygon points="504.41,602.75 503.65,598.93 506.59,599.52" fill="#999"/>
<line x1="531.29" y1="499.00" x2="564.26" y2="485.57" stroke="#b0b0b0" stroke-width="0.7"/>
<polygon points="564.26,485.57 561.49,488.31 560.36,485.54" fill="#999"/>
<line x1="518.60" y1="504.41" x2="396.54" y2="558.90" stroke="#b0b0b0" stroke-width="0.7"/>
<polygon points="396.54,558.90 399.22,556.06 400.44,558.80" fill="#999"/>
<line x1="444.12" y1="499.54" x2="404.94" y2="485.30" stroke="#b0b0b0" stroke-width="0.7"/>
<polygon points="404.94,485.30 408.84,485.12 407.81,487.94" fill="#999"/>
<line x1="446.87" y1="507.71" x2="384.31" y2="605.11" stroke="#b0b0b0" stroke-width="0.7"/>
<polygon points="384.31,605.11 384.99,601.27 387.52,602.89" fill="#999"/>
<line x1="488.20" y1="557.98" x2="403.64" y2="487.56" stroke="#b0b0b0" stroke-width="0.7"/>
<polygon points="403.64,487.56 407.37,488.71 405.45,491.02" fill="#999"/>
<line x1="500.28" y1="561.11" x2="530.33" y2="555.42" stroke="#b0b0b0" stroke-width="0.7"/>
<polygon points="530.33,555.42 527.08,557.56 526.52,554.61" fill="#999"/>
<line x1="500.40" y1="562.40" x2="584.00" y2="562.40" stroke="#b0b0b0" stroke-width="0.7"/>
<polygon points="584.00,562.40 580.40,563.90 580.40,560.90" fill="#999"/>
<line x1="499.03" y1="566.53" x2="569.51" y2="619.25" stroke="#b0b0b0" stroke-width="0.7"/>
<polygon points="569.51,619.25 565.73,618.29 567.53,615.89" fill="#999"/>
<line x1="436.01" y1="547.95" x2="401.64" y2="489.26" stroke="#b0b0b0" stroke-width="0.7"/>
<polygon points="401.64,489.26 404.75,491.61 402.17,493.12" fill="#999"/>
<line x1="432.69" y1="555.01" x2="397.10" y2="560.78" stroke="#b0b0b0" stroke-width="0.7"/>
<polygon points="397.10,560.78 400.41,558.72 400.90,561.69" fill="#999"/>
<line x1="446.32" y1="554.97" x2="485.99" y2="561.22" stroke="#b0b0b0" stroke-width="0.7"/>
<polygon points="485.99,561.22 482.20,562.14 482.67,559.18" fill="#999"/>
<line x1="585.22" y1="559.78" x2="404.83" y2="485.59" stroke="#b0b0b0" stroke-width="0.7"/>
<polygon points="404.83,485.59 408.73,485.57 407.59,488.35" fill="#999"/>
<line x1="476.19" y1="637.74" x2="401.23" y2="489.48" stroke="#b0b0b0" stroke-width="0.7"/>
<polygon points="401.23,489.48 404.19,492.02 401.51,493.37" fill="#999"/>
<line x1="484.88" y1="639.85" x2="585.45" y2="566.86" stroke="#b0b0b0" stroke-width="0.7"/>
<polygon points="585.45,566.86 583.42,570.19 581.65,567.76" fill="#999"/>
<line x1="473.93" y1="639.57" x2="453.61" y2="623.17" stroke="#b0b0b0" stroke-width="0.7"/>
<polygon points="453.61,623.17 457.36,624.27 455.47,626.60" fill="#999"/>
<line x1="472.44" y1="643.20" x2="447.36" y2="640.67" stroke="#b0b0b0" stroke-width="0.7"/>
<polygon points="447.36,640.67 451.09,639.54 450.79,642.52" fill="#999"/>
<line x1="480.04" y1="650.76" x2="481.59" y2="665.24" stroke="#b0b0b0" stroke-width="0.7"/>
<polygon points="481.59,665.24 479.71,661.82 482.70,661.50" fill="#999"/>
<line x1="485.32" y1="647.26" x2="515.46" y2="664.09" stroke="#b0b0b0" stroke-width="0.7"/>
<polygon points="515.46,664.09 511.59,663.65 513.05,661.03" fill="#999"/>
<line x1="486.17" y1="643.25" x2="512.73" y2="640.72" stroke="#b0b0b0" stroke-width="0.7"/>
<polygon points="512.73,640.72 509.29,642.55 509.01,639.57" fill="#999"/>
<line x1="483.26" y1="638.25" x2="498.54" y2="616.43" stroke="#b0b0b0" stroke-width="0.7"/>
<polygon points="498.54,616.43 497.70,620.23 495.25,618.51" fill="#999"/>
<line x1="531.65" y1="550.87" x2="404.57" y2="486.15" stroke="#b0b0b0" stroke-width="0.7"/>
<polygon points="404.57,486.15 408.46,486.45 407.10,489.12" fill="#999"/>
<line x1="498.51" y1="604.88" x2="402.63" y2="488.56" stroke="#b0b0b0" stroke-width="0.7"/>
<polygon points="402.63,488.56 406.08,490.39 403.77,492.30" fill="#999"/>
<line x1="398.53" y1="489.56" x2="410.70" y2="603.94" stroke="#b0b0b0" stroke-width="0.7"/>
<polygon points="410.70,603.94 408.82,600.52 411.81,600.20" fill="#999"/>
<line x1="400.18" y1="489.18" x2="445.08" y2="611.27" stroke="#b0b0b0" stroke-width="0.7"/>
<polygon points="445.08,611.27 442.43,608.41 445.24,607.37" fill="#999"/>
<line x1="402.50" y1="487.75" x2="554.22" y2="650.64" stroke="#b0b0b0" stroke-width="0.7"/>
<polygon points="554.22,650.64 550.67,649.03 552.86,646.98" fill="#999"/>
<line x1="403.20" y1="486.99" x2="569.65" y2="619.08" stroke="#b0b0b0" stroke-width="0.7"/>
<polygon points="569.65,619.08 565.89,618.01 567.76,615.66" fill="#999"/>
<line x1="539.23" y1="560.75" x2="557.83" y2="648.76" stroke="#b0b0b0" stroke-width="0.7"/>
<polygon points="557.83,648.76 555.62,645.55 558.55,644.93" fill="#999"/>
<line x1="544.62" y1="555.06" x2="584.09" y2="561.23" stroke="#b0b0b0" stroke-width="0.7"/>
<polygon points="584.09,561.23 580.30,562.15 580.77,559.19" fill="#999"/>
<line x1="487.58" y1="565.94" x2="418.02" y2="607.60" stroke="#b0b0b0" stroke-width="0.7"/>
<polygon points="418.02,607.60 420.34,604.46 421.88,607.03" fill="#999"/>
<line x1="404.28" y1="485.06" x2="443.46" y2="499.30" stroke="#b0b0b0" stroke-width="0.7"/>
<polygon points="443.46,499.30 439.56,499.48 440.59,496.66" fill="#999"/>
<line x1="477.93" y1="637.14" x2="452.11" y2="509.35" stroke="#b0b0b0" stroke-width="0.7"/>
<polygon points="452.11,509.35 454.29,512.58 451.35,513.18" fill="#999"/>
<line x1="479.51" y1="637.00" x2="483.97" y2="489.80" stroke="#b0b0b0" stroke-width="0.7"/>
<polygon points="483.97,489.80 485.36,493.44 482.36,493.35" fill="#999"/>
<line x1="404.70" y1="482.66" x2="476.60" y2="482.24" stroke="#b0b0b0" stroke-width="0.7"/>
<polygon points="476.60,482.24 473.01,483.76 472.99,480.76" fill="#999"/>
<line x1="480.48" y1="637.10" x2="492.20" y2="569.89" stroke="#b0b0b0" stroke-width="0.7"/>
<polygon points="492.20,569.89 493.06,573.69 490.10,573.18" fill="#999"/>
<line x1="483.06" y1="638.12" x2="533.65" y2="560.37" stroke="#b0b0b0" stroke-width="0.7"/>
<polygon points="533.65,560.37 532.95,564.21 530.43,562.57" fill="#999"/>
<line x1="445.64" y1="557.05" x2="568.84" y2="620.33" stroke="#b0b0b0" stroke-width="0.7"/>
<polygon points="568.84,620.33 564.95,620.02 566.32,617.35" fill="#999"/>
<line x1="527.54" y1="507.97" x2="572.69" y2="616.78" stroke="#b0b0b0" stroke-width="0.7"/>
<polygon points="572.69,616.78 569.92,614.03 572.69,612.88" fill="#999"/>
<line x1="403.10" y1="487.12" x2="487.66" y2="557.54" stroke="#b0b0b0" stroke-width="0.7"/>
<polygon points="487.66,557.54 483.93,556.39 485.85,554.08" fill="#999"/>
<line x1="401.29" y1="488.65" x2="435.66" y2="547.34" stroke="#b0b0b0" stroke-width="0.7"/>
<polygon points="435.66,547.34 432.55,544.99 435.13,543.48" fill="#999"/>
<line x1="400.91" y1="488.86" x2="475.87" y2="637.12" stroke="#b0b0b0" stroke-width="0.7"/>
<polygon points="475.87,637.12 472.91,634.58 475.59,633.23" fill="#999"/>
<line x1="459.72" y1="430.22" x2="409.24" y2="644.90" stroke="#b0b0b0" stroke-width="0.6" stroke-dasharray="1.6,1.3"/>
<line x1="407.10" y1="644.40" x2="411.38" y2="645.41" stroke="#888" stroke-width="0.7"/>
<line x1="505.70" y1="429.39" x2="487.07" y2="475.16" stroke="#b0b0b0" stroke-width="0.6" stroke-dasharray="1.6,1.3"/>
<line x1="485.03" y1="474.33" x2="489.10" y2="475.99" stroke="#888" stroke-width="0.7"/>
<line x1="509.82" y1="429.73" x2="536.13" y2="546.59" stroke="#b0b0b0" stroke-width="0.6" stroke-dasharray="1.6,1.3"/>
<line x1="533.98" y1="547.07" x2="538.28" y2="546.10" stroke="#888" stroke-width="0.7"/>
<line x1="510.49" y1="429.54" x2="573.18" y2="616.59" stroke="#b0b0b0" stroke-width="0.6" stroke-dasharray="1.6,1.3"/>
<line x1="571.10" y1="617.29" x2="575.27" y2="615.89" stroke="#888" stroke-width="0.7"/>
<line x1="510.80" y1="429.43" x2="591.75" y2="637.72" stroke="#b0b0b0" stroke-width="0.6" stroke-dasharray="1.6,1.3"/>
<line x1="589.70" y1="638.51" x2="593.80" y2="636.92" stroke="#888" stroke-width="0.7"/>
<line x1="508.10" y1="429.90" x2="503.12" y2="602.60" stroke="#b0b0b0" stroke-width="0.6" stroke-dasharray="1.6,1.3"/>
<line x1="500.92" y1="602.54" x2="505.32" y2="602.67" stroke="#888" stroke-width="0.7"/>
<line x1="488.73" y1="567.39" x2="412.75" y2="646.81" stroke="#b0b0b0" stroke-width="0.6" stroke-dasharray="1.6,1.3"/>
<line x1="411.16" y1="645.29" x2="414.34" y2="648.33" stroke="#888" stroke-width="0.7"/>
<line x1="445.24" y1="557.73" x2="536.88" y2="618.98" stroke="#b0b0b0" stroke-width="0.6" stroke-dasharray="1.6,1.3"/>
<line x1="535.66" y1="620.81" x2="538.10" y2="617.15" stroke="#888" stroke-width="0.7"/>
<line x1="593.32" y1="569.08" x2="602.91" y2="606.44" stroke="#b0b0b0" stroke-width="0.6" stroke-dasharray="1.6,1.3"/>
<line x1="600.78" y1="606.99" x2="605.04" y2="605.89" stroke="#888" stroke-width="0.7"/>
<line x1="573.01" y1="489.39" x2="602.92" y2="606.44" stroke="#b0b0b0" stroke-width="0.6" stroke-dasharray="1.6,1.3"/>
<line x1="600.79" y1="606.98" x2="605.05" y2="605.89" stroke="#888" stroke-width="0.7"/>
<line x1="527.92" y1="507.81" x2="591.18" y2="637.96" stroke="#b0b0b0" stroke-width="0.6" stroke-dasharray="1.6,1.3"/>
<line x1="589.20" y1="638.93" x2="593.16" y2="637.00" stroke="#888" stroke-width="0.7"/>
<line x1="473.41" y1="647.49" x2="446.29" y2="664.04" stroke="#b0b0b0" stroke-width="0.6" stroke-dasharray="1.6,1.3"/>
<line x1="445.14" y1="662.16" x2="447.43" y2="665.92" stroke="#888" stroke-width="0.7"/>
<line x1="538.34" y1="560.88" x2="542.61" y2="615.62" stroke="#b0b0b0" stroke-width="0.6" stroke-dasharray="1.6,1.3"/>
<line x1="540.42" y1="615.79" x2="544.80" y2="615.45" stroke="#888" stroke-width="0.7"/>
<line x1="481.36" y1="488.49" x2="410.62" y2="645.37" stroke="#b0b0b0" stroke-width="0.6" stroke-dasharray="1.6,1.3"/>
<line x1="408.62" y1="644.47" x2="412.63" y2="646.28" stroke="#888" stroke-width="0.7"/>
<line x1="528.90" y1="507.22" x2="600.39" y2="607.61" stroke="#b0b0b0" stroke-width="0.6" stroke-dasharray="1.6,1.3"/>
<line x1="598.60" y1="608.89" x2="602.18" y2="606.33" stroke="#888" stroke-width="0.7"/>
<line x1="460.37" y1="430.34" x2="451.63" y2="494.37" stroke="#b0b0b0" stroke-width="0.6" stroke-dasharray="1.6,1.3"/>
<line x1="449.45" y1="494.07" x2="453.81" y2="494.67" stroke="#888" stroke-width="0.7"/>
<path d="M390.80,482.60 C382.50,483.60 385.50,468.10 394.50,469.30 C397.70,469.60 397.80,471.60 397.80,472.60" fill="none" stroke="#b0b0b0" stroke-width="0.65"/>
<polygon points="397.80,475.20 396.30,471.40 399.30,471.40" fill="#999"/>
<path d="M564.50,482.50 C556.20,483.50 559.20,468.00 568.20,469.20 C571.40,469.50 571.50,471.50 571.50,472.50" fill="none" stroke="#b0b0b0" stroke-width="0.65"/>
<polygon points="571.50,475.10 570.00,471.30 573.00,471.30" fill="#999"/>
</g>
<circle cx="461.3" cy="423.5" r="6.4" fill="#d7bfe0"/>
<circle cx="508.3" cy="423.0" r="6.4" fill="#d7bfe0"/>
<circle cx="397.8" cy="482.7" r="6.4" fill="#f2716b"/>
<circle cx="484.2" cy="482.2" r="6.4" fill="#d3d3d3"/>
<circle cx="571.3" cy="482.7" r="6.4" fill="#f2716b"/>
<circle cx="450.6" cy="501.9" r="6.4" fill="#d3d3d3"/>
<circle cx="524.9" cy="501.6" r="6.4" fill="#f2716b"/>
<circle cx="389.6" cy="562.0" r="6.4" fill="#d3d3d3"/>
<circle cx="439.5" cy="553.9" r="6.4" fill="#f2716b"/>
<circle cx="493.5" cy="562.4" r="6.4" fill="#f2716b"/>
<circle cx="537.8" cy="554.0" r="6.4" fill="#d3d3d3"/>
<circle cx="591.6" cy="562.4" r="6.4" fill="#f2716b"/>
<circle cx="380.2" cy="611.5" r="6.4" fill="#d3d3d3"/>
<circle cx="411.5" cy="611.5" r="6.4" fill="#d3d3d3"/>
<circle cx="447.7" cy="618.4" r="6.4" fill="#d3d3d3"/>
<circle cx="502.9" cy="610.2" r="6.4" fill="#d3d3d3"/>
<circle cx="543.2" cy="623.2" r="6.4" fill="#d3d3d3"/>
<circle cx="575.6" cy="623.8" r="6.4" fill="#d3d3d3"/>
<circle cx="604.8" cy="613.8" r="6.4" fill="#d3d3d3"/>
<circle cx="479.3" cy="643.9" r="6.4" fill="#f2716b"/>
<circle cx="439.8" cy="639.9" r="6.4" fill="#d3d3d3"/>
<circle cx="407.5" cy="652.3" r="6.4" fill="#d3d3d3"/>
<circle cx="520.3" cy="640.0" r="6.4" fill="#d3d3d3"/>
<circle cx="594.5" cy="644.8" r="6.4" fill="#d3d3d3"/>
<circle cx="559.4" cy="656.2" r="6.4" fill="#d3d3d3"/>
<circle cx="439.8" cy="668.0" r="6.4" fill="#d3d3d3"/>
<circle cx="482.4" cy="672.8" r="6.4" fill="#d3d3d3"/>
<circle cx="522.1" cy="667.8" r="6.4" fill="#d3d3d3"/>
<text x="459.00" y="412.50" font-size="8.6" text-anchor="middle" fill="#222" stroke="#222" stroke-width="0.15">NEUROG1</text>
<text x="518.20" y="412.50" font-size="8.6" text-anchor="middle" fill="#222" stroke="#222" stroke-width="0.15">NEUROG2</text>
<text x="399.00" y="467.70" font-size="8.8" text-anchor="middle" fill="#111" font-weight="bold">EBF1</text>
<text x="484.20" y="467.70" font-size="9.0" text-anchor="middle" fill="#222" stroke="#222" stroke-width="0.15">RCOR2</text>
<text x="573.40" y="467.80" font-size="8.8" text-anchor="middle" fill="#111" font-weight="bold">ZBTB18</text>
<text x="452.00" y="489.80" font-size="9.0" text-anchor="middle" fill="#222" stroke="#222" stroke-width="0.15">E2F1</text>
<text x="527.30" y="490.20" font-size="8.8" text-anchor="middle" fill="#111" font-weight="bold">POU3F2</text>
<text x="391.50" y="552.00" font-size="9.0" text-anchor="middle" fill="#222" stroke="#222" stroke-width="0.15">FOXN2</text>
<text x="441.00" y="543.60" font-size="8.8" text-anchor="middle" fill="#111" font-weight="bold">ISL2</text>
<text x="495.60" y="551.90" font-size="8.8" text-anchor="middle" fill="#111" font-weight="bold">SNAI2</text>
<text x="540.50" y="543.80" font-size="9.0" text-anchor="middle" fill="#222" stroke="#222" stroke-width="0.15">TSC22D3</text>
<text x="593.70" y="551.90" font-size="8.8" text-anchor="middle" fill="#111" font-weight="bold">VAX2</text>
<text x="378.10" y="626.80" font-size="9.0" text-anchor="middle" fill="#222" stroke="#222" stroke-width="0.15">PRDM6</text>
<text x="413.60" y="626.80" font-size="9.0" text-anchor="middle" fill="#222" stroke="#222" stroke-width="0.15">THRA</text>
<text x="450.90" y="607.90" font-size="9.0" text-anchor="middle" fill="#222" stroke="#222" stroke-width="0.15">ZNF250</text>
<text x="501.60" y="601.10" font-size="9.0" text-anchor="middle" fill="#222" stroke="#222" stroke-width="0.15">CBX4</text>
<text x="541.30" y="612.10" font-size="9.0" text-anchor="middle" fill="#222" stroke="#222" stroke-width="0.15">PRDM5</text>
<text x="576.20" y="637.30" font-size="9.0" text-anchor="middle" fill="#222" stroke="#222" stroke-width="0.15">JUND</text>
<text x="615.60" y="628.60" font-size="9.0" text-anchor="middle" fill="#222" stroke="#222" stroke-width="0.15">ZNF107</text>
<text x="481.40" y="633.40" font-size="8.8" text-anchor="middle" fill="#111" font-weight="bold">INSM1</text>
<text x="442.00" y="654.40" font-size="9.0" text-anchor="middle" fill="#222" stroke="#222" stroke-width="0.15">TBPL1</text>
<text x="409.10" y="668.30" font-size="9.0" text-anchor="middle" fill="#222" stroke="#222" stroke-width="0.15">SMAD3</text>
<text x="523.80" y="653.50" font-size="9.0" text-anchor="middle" fill="#222" stroke="#222" stroke-width="0.15">LHX4</text>
<text x="601.80" y="658.10" font-size="9.0" text-anchor="middle" fill="#222" stroke="#222" stroke-width="0.15">HTATIP2</text>
<text x="564.00" y="667.80" font-size="9.0" text-anchor="middle" fill="#222" stroke="#222" stroke-width="0.15">ZNF441</text>
<text x="441.20" y="684.60" font-size="9.0" text-anchor="middle" fill="#222" stroke="#222" stroke-width="0.15">CRY1</text>
<text x="483.20" y="688.50" font-size="9.0" text-anchor="middle" fill="#222" stroke="#222" stroke-width="0.15">JUNB</text>
<text x="524.30" y="681.80" font-size="9.0" text-anchor="middle" fill="#222" stroke="#222" stroke-width="0.15">TCEA2</text>
<line x1="356.30" y1="518.30" x2="638.60" y2="518.30" stroke="#888" stroke-width="0.9" stroke-dasharray="5,3.5"/>
<line x1="356.30" y1="588.80" x2="638.60" y2="588.80" stroke="#888" stroke-width="0.9" stroke-dasharray="5,3.5"/>
<text x="347.80" y="466.00" font-size="12" text-anchor="start" fill="#231f20" stroke="#231f20" stroke-width="0.15">0.5</text>
<text x="361.30" y="555.70" font-size="12" text-anchor="middle" fill="#231f20" stroke="#231f20" stroke-width="0.15">1</text>
<text x="361.60" y="645.00" font-size="12" text-anchor="middle" fill="#231f20" stroke="#231f20" stroke-width="0.15">4</text>
<text transform="translate(335.00,550.20) rotate(-90)" x="0" y="3.92" font-size="11.2" text-anchor="middle" fill="#231f20" stroke="#231f20" stroke-width="0.15">Days post-<tspan font-style="italic">NEUROG1/2</tspan> induction</text>
<circle cx="629.8" cy="419.0" r="5.2" fill="#f2716b"/>
<circle cx="629.8" cy="432.2" r="5.2" fill="#d3d3d3"/>
<text x="637.70" y="422.30" font-size="8.8" text-anchor="start" fill="#231f20" stroke="#231f20" stroke-width="0.15">Cluster A</text>
<text x="637.70" y="435.30" font-size="8.8" text-anchor="start" fill="#231f20" stroke="#231f20" stroke-width="0.15">Other neTF</text>
<text x="636.60" y="654.90" font-size="8.2" text-anchor="start" fill="#231f20" stroke="#231f20" stroke-width="0.15">No neTF</text>
<text x="636.60" y="661.60" font-size="8.2" text-anchor="start" fill="#231f20" stroke="#231f20" stroke-width="0.15">connections</text>
<circle cx="641.8" cy="668.3" r="4.9" fill="#f2716b"/>
<circle cx="641.8" cy="679.9" r="4.9" fill="#f2716b"/>
<text x="649.30" y="670.70" font-size="6.9" text-anchor="start" fill="#231f20" font-weight="bold">PHOX2A</text>
<text x="649.30" y="682.20" font-size="6.9" text-anchor="start" fill="#231f20" font-weight="bold">SCRT2</text>
</svg>
</body></html>
